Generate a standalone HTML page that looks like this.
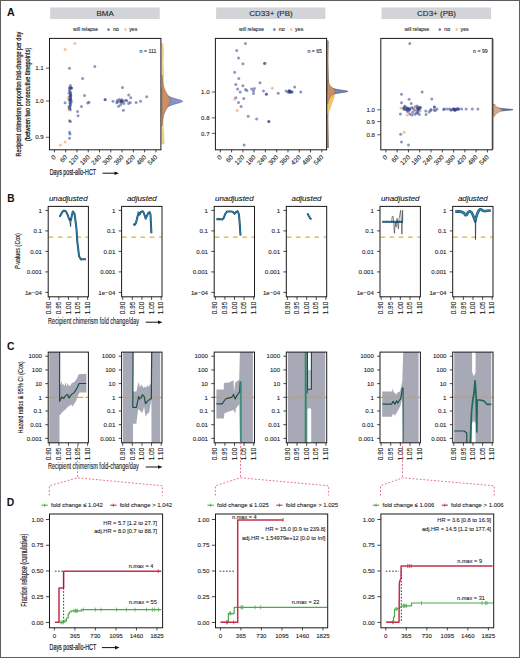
<!DOCTYPE html>
<html><head><meta charset="utf-8"><style>
html,body{margin:0;padding:0;background:#fff;}
body{width:520px;height:658px;overflow:hidden;position:relative;}
svg{position:absolute;left:0;top:0;font-family:"Liberation Sans",sans-serif;}
.frame{position:absolute;left:0;top:0;width:518px;height:656px;border:1px solid #5e5e5e;}
</style></head><body>
<svg width="520" height="658" viewBox="0 0 520 658">
<text x="6.90" y="15.80" font-size="11" text-anchor="start" fill="#111" font-weight="bold" textLength="7.7" lengthAdjust="spacingAndGlyphs" >A</text>
<rect x="50.20" y="7.50" width="109.50" height="11.50" fill="#d2d4d7" stroke="none" stroke-width="1" />
<text x="105.20" y="15.90" font-size="8" text-anchor="middle" fill="#1f1f1f"  stroke="#1f1f1f" stroke-width="0.1">BMA</text>
<text x="73.10" y="31.30" font-size="5.3" text-anchor="start" fill="#262626" textLength="25" lengthAdjust="spacingAndGlyphs"  stroke="#262626" stroke-width="0.1">will relapse</text>
<circle cx="108.50" cy="29.60" r="1.3" fill="#34428a" fill-opacity="0.7"/>
<text x="112.90" y="31.30" font-size="5.3" text-anchor="start" fill="#262626"  stroke="#262626" stroke-width="0.1">no</text>
<circle cx="125.40" cy="29.60" r="1.3" fill="#f2a65a" fill-opacity="0.7"/>
<text x="129.20" y="31.30" font-size="5.3" text-anchor="start" fill="#262626"  stroke="#262626" stroke-width="0.1">yes</text>
<line x1="54.40" y1="149.80" x2="54.40" y2="152.40" stroke="#1a1a1a" stroke-width="0.8" />
<text x="56.40" y="157.80" font-size="6.5" text-anchor="end" fill="#262626" transform="rotate(-45 56.40 157.80)"  stroke="#262626" stroke-width="0.1">0</text>
<line x1="65.68" y1="149.80" x2="65.68" y2="152.40" stroke="#1a1a1a" stroke-width="0.8" />
<text x="67.68" y="157.80" font-size="6.5" text-anchor="end" fill="#262626" transform="rotate(-45 67.68 157.80)"  stroke="#262626" stroke-width="0.1">60</text>
<line x1="76.96" y1="149.80" x2="76.96" y2="152.40" stroke="#1a1a1a" stroke-width="0.8" />
<text x="78.96" y="157.80" font-size="6.5" text-anchor="end" fill="#262626" transform="rotate(-45 78.96 157.80)"  stroke="#262626" stroke-width="0.1">120</text>
<line x1="88.24" y1="149.80" x2="88.24" y2="152.40" stroke="#1a1a1a" stroke-width="0.8" />
<text x="90.24" y="157.80" font-size="6.5" text-anchor="end" fill="#262626" transform="rotate(-45 90.24 157.80)"  stroke="#262626" stroke-width="0.1">180</text>
<line x1="99.52" y1="149.80" x2="99.52" y2="152.40" stroke="#1a1a1a" stroke-width="0.8" />
<text x="101.52" y="157.80" font-size="6.5" text-anchor="end" fill="#262626" transform="rotate(-45 101.52 157.80)"  stroke="#262626" stroke-width="0.1">240</text>
<line x1="110.80" y1="149.80" x2="110.80" y2="152.40" stroke="#1a1a1a" stroke-width="0.8" />
<text x="112.80" y="157.80" font-size="6.5" text-anchor="end" fill="#262626" transform="rotate(-45 112.80 157.80)"  stroke="#262626" stroke-width="0.1">300</text>
<line x1="122.08" y1="149.80" x2="122.08" y2="152.40" stroke="#1a1a1a" stroke-width="0.8" />
<text x="124.08" y="157.80" font-size="6.5" text-anchor="end" fill="#262626" transform="rotate(-45 124.08 157.80)"  stroke="#262626" stroke-width="0.1">360</text>
<line x1="133.36" y1="149.80" x2="133.36" y2="152.40" stroke="#1a1a1a" stroke-width="0.8" />
<text x="135.36" y="157.80" font-size="6.5" text-anchor="end" fill="#262626" transform="rotate(-45 135.36 157.80)"  stroke="#262626" stroke-width="0.1">420</text>
<line x1="144.64" y1="149.80" x2="144.64" y2="152.40" stroke="#1a1a1a" stroke-width="0.8" />
<text x="146.64" y="157.80" font-size="6.5" text-anchor="end" fill="#262626" transform="rotate(-45 146.64 157.80)"  stroke="#262626" stroke-width="0.1">480</text>
<line x1="155.92" y1="149.80" x2="155.92" y2="152.40" stroke="#1a1a1a" stroke-width="0.8" />
<text x="157.92" y="157.80" font-size="6.5" text-anchor="end" fill="#262626" transform="rotate(-45 157.92 157.80)"  stroke="#262626" stroke-width="0.1">540</text>
<line x1="45.90" y1="68.18" x2="49.50" y2="68.18" stroke="#1a1a1a" stroke-width="0.7" />
<text x="43.70" y="70.38" font-size="6.1" text-anchor="end" fill="#262626"  stroke="#262626" stroke-width="0.1">1.1</text>
<line x1="45.90" y1="101.00" x2="49.50" y2="101.00" stroke="#1a1a1a" stroke-width="0.7" />
<text x="43.70" y="103.20" font-size="6.1" text-anchor="end" fill="#262626"  stroke="#262626" stroke-width="0.1">1.0</text>
<line x1="45.90" y1="137.29" x2="49.50" y2="137.29" stroke="#1a1a1a" stroke-width="0.7" />
<text x="43.70" y="139.49" font-size="6.1" text-anchor="end" fill="#262626"  stroke="#262626" stroke-width="0.1">0.9</text>
<text x="156.30" y="53.20" font-size="5.2" text-anchor="end" fill="#262626"  stroke="#262626" stroke-width="0.1">n = 111</text>
<rect x="216.10" y="7.50" width="109.30" height="11.50" fill="#d2d4d7" stroke="none" stroke-width="1" />
<text x="271.00" y="15.90" font-size="8" text-anchor="middle" fill="#1f1f1f"  stroke="#1f1f1f" stroke-width="0.1">CD33+ (PB)</text>
<text x="239.00" y="31.30" font-size="5.3" text-anchor="start" fill="#262626" textLength="25" lengthAdjust="spacingAndGlyphs"  stroke="#262626" stroke-width="0.1">will relapse</text>
<circle cx="274.40" cy="29.60" r="1.3" fill="#34428a" fill-opacity="0.7"/>
<text x="278.80" y="31.30" font-size="5.3" text-anchor="start" fill="#262626"  stroke="#262626" stroke-width="0.1">no</text>
<circle cx="291.30" cy="29.60" r="1.3" fill="#f2a65a" fill-opacity="0.7"/>
<text x="295.10" y="31.30" font-size="5.3" text-anchor="start" fill="#262626"  stroke="#262626" stroke-width="0.1">yes</text>
<line x1="220.30" y1="149.80" x2="220.30" y2="152.40" stroke="#1a1a1a" stroke-width="0.8" />
<text x="222.30" y="157.80" font-size="6.5" text-anchor="end" fill="#262626" transform="rotate(-45 222.30 157.80)"  stroke="#262626" stroke-width="0.1">0</text>
<line x1="231.58" y1="149.80" x2="231.58" y2="152.40" stroke="#1a1a1a" stroke-width="0.8" />
<text x="233.58" y="157.80" font-size="6.5" text-anchor="end" fill="#262626" transform="rotate(-45 233.58 157.80)"  stroke="#262626" stroke-width="0.1">60</text>
<line x1="242.86" y1="149.80" x2="242.86" y2="152.40" stroke="#1a1a1a" stroke-width="0.8" />
<text x="244.86" y="157.80" font-size="6.5" text-anchor="end" fill="#262626" transform="rotate(-45 244.86 157.80)"  stroke="#262626" stroke-width="0.1">120</text>
<line x1="254.14" y1="149.80" x2="254.14" y2="152.40" stroke="#1a1a1a" stroke-width="0.8" />
<text x="256.14" y="157.80" font-size="6.5" text-anchor="end" fill="#262626" transform="rotate(-45 256.14 157.80)"  stroke="#262626" stroke-width="0.1">180</text>
<line x1="265.42" y1="149.80" x2="265.42" y2="152.40" stroke="#1a1a1a" stroke-width="0.8" />
<text x="267.42" y="157.80" font-size="6.5" text-anchor="end" fill="#262626" transform="rotate(-45 267.42 157.80)"  stroke="#262626" stroke-width="0.1">240</text>
<line x1="276.70" y1="149.80" x2="276.70" y2="152.40" stroke="#1a1a1a" stroke-width="0.8" />
<text x="278.70" y="157.80" font-size="6.5" text-anchor="end" fill="#262626" transform="rotate(-45 278.70 157.80)"  stroke="#262626" stroke-width="0.1">300</text>
<line x1="287.98" y1="149.80" x2="287.98" y2="152.40" stroke="#1a1a1a" stroke-width="0.8" />
<text x="289.98" y="157.80" font-size="6.5" text-anchor="end" fill="#262626" transform="rotate(-45 289.98 157.80)"  stroke="#262626" stroke-width="0.1">360</text>
<line x1="299.26" y1="149.80" x2="299.26" y2="152.40" stroke="#1a1a1a" stroke-width="0.8" />
<text x="301.26" y="157.80" font-size="6.5" text-anchor="end" fill="#262626" transform="rotate(-45 301.26 157.80)"  stroke="#262626" stroke-width="0.1">420</text>
<line x1="310.54" y1="149.80" x2="310.54" y2="152.40" stroke="#1a1a1a" stroke-width="0.8" />
<text x="312.54" y="157.80" font-size="6.5" text-anchor="end" fill="#262626" transform="rotate(-45 312.54 157.80)"  stroke="#262626" stroke-width="0.1">480</text>
<line x1="321.82" y1="149.80" x2="321.82" y2="152.40" stroke="#1a1a1a" stroke-width="0.8" />
<text x="323.82" y="157.80" font-size="6.5" text-anchor="end" fill="#262626" transform="rotate(-45 323.82 157.80)"  stroke="#262626" stroke-width="0.1">540</text>
<line x1="211.80" y1="92.00" x2="215.40" y2="92.00" stroke="#1a1a1a" stroke-width="0.7" />
<text x="209.60" y="94.20" font-size="6.1" text-anchor="end" fill="#262626"  stroke="#262626" stroke-width="0.1">1.0</text>
<line x1="211.80" y1="117.87" x2="215.40" y2="117.87" stroke="#1a1a1a" stroke-width="0.7" />
<text x="209.60" y="120.07" font-size="6.1" text-anchor="end" fill="#262626"  stroke="#262626" stroke-width="0.1">0.8</text>
<line x1="211.80" y1="133.36" x2="215.40" y2="133.36" stroke="#1a1a1a" stroke-width="0.7" />
<text x="209.60" y="135.56" font-size="6.1" text-anchor="end" fill="#262626"  stroke="#262626" stroke-width="0.1">0.7</text>
<text x="322.00" y="53.20" font-size="5.2" text-anchor="end" fill="#262626"  stroke="#262626" stroke-width="0.1">n = 65</text>
<rect x="381.50" y="7.50" width="109.60" height="11.50" fill="#d2d4d7" stroke="none" stroke-width="1" />
<text x="436.55" y="15.90" font-size="8" text-anchor="middle" fill="#1f1f1f"  stroke="#1f1f1f" stroke-width="0.1">CD3+ (PB)</text>
<text x="404.40" y="31.30" font-size="5.3" text-anchor="start" fill="#262626" textLength="25" lengthAdjust="spacingAndGlyphs"  stroke="#262626" stroke-width="0.1">will relapse</text>
<circle cx="439.80" cy="29.60" r="1.3" fill="#34428a" fill-opacity="0.7"/>
<text x="444.20" y="31.30" font-size="5.3" text-anchor="start" fill="#262626"  stroke="#262626" stroke-width="0.1">no</text>
<circle cx="456.70" cy="29.60" r="1.3" fill="#f2a65a" fill-opacity="0.7"/>
<text x="460.50" y="31.30" font-size="5.3" text-anchor="start" fill="#262626"  stroke="#262626" stroke-width="0.1">yes</text>
<line x1="385.90" y1="149.80" x2="385.90" y2="152.40" stroke="#1a1a1a" stroke-width="0.8" />
<text x="387.90" y="157.80" font-size="6.5" text-anchor="end" fill="#262626" transform="rotate(-45 387.90 157.80)"  stroke="#262626" stroke-width="0.1">0</text>
<line x1="397.18" y1="149.80" x2="397.18" y2="152.40" stroke="#1a1a1a" stroke-width="0.8" />
<text x="399.18" y="157.80" font-size="6.5" text-anchor="end" fill="#262626" transform="rotate(-45 399.18 157.80)"  stroke="#262626" stroke-width="0.1">60</text>
<line x1="408.46" y1="149.80" x2="408.46" y2="152.40" stroke="#1a1a1a" stroke-width="0.8" />
<text x="410.46" y="157.80" font-size="6.5" text-anchor="end" fill="#262626" transform="rotate(-45 410.46 157.80)"  stroke="#262626" stroke-width="0.1">120</text>
<line x1="419.74" y1="149.80" x2="419.74" y2="152.40" stroke="#1a1a1a" stroke-width="0.8" />
<text x="421.74" y="157.80" font-size="6.5" text-anchor="end" fill="#262626" transform="rotate(-45 421.74 157.80)"  stroke="#262626" stroke-width="0.1">180</text>
<line x1="431.02" y1="149.80" x2="431.02" y2="152.40" stroke="#1a1a1a" stroke-width="0.8" />
<text x="433.02" y="157.80" font-size="6.5" text-anchor="end" fill="#262626" transform="rotate(-45 433.02 157.80)"  stroke="#262626" stroke-width="0.1">240</text>
<line x1="442.30" y1="149.80" x2="442.30" y2="152.40" stroke="#1a1a1a" stroke-width="0.8" />
<text x="444.30" y="157.80" font-size="6.5" text-anchor="end" fill="#262626" transform="rotate(-45 444.30 157.80)"  stroke="#262626" stroke-width="0.1">300</text>
<line x1="453.58" y1="149.80" x2="453.58" y2="152.40" stroke="#1a1a1a" stroke-width="0.8" />
<text x="455.58" y="157.80" font-size="6.5" text-anchor="end" fill="#262626" transform="rotate(-45 455.58 157.80)"  stroke="#262626" stroke-width="0.1">360</text>
<line x1="464.86" y1="149.80" x2="464.86" y2="152.40" stroke="#1a1a1a" stroke-width="0.8" />
<text x="466.86" y="157.80" font-size="6.5" text-anchor="end" fill="#262626" transform="rotate(-45 466.86 157.80)"  stroke="#262626" stroke-width="0.1">420</text>
<line x1="476.14" y1="149.80" x2="476.14" y2="152.40" stroke="#1a1a1a" stroke-width="0.8" />
<text x="478.14" y="157.80" font-size="6.5" text-anchor="end" fill="#262626" transform="rotate(-45 478.14 157.80)"  stroke="#262626" stroke-width="0.1">480</text>
<line x1="487.42" y1="149.80" x2="487.42" y2="152.40" stroke="#1a1a1a" stroke-width="0.8" />
<text x="489.42" y="157.80" font-size="6.5" text-anchor="end" fill="#262626" transform="rotate(-45 489.42 157.80)"  stroke="#262626" stroke-width="0.1">540</text>
<line x1="377.20" y1="109.80" x2="380.80" y2="109.80" stroke="#1a1a1a" stroke-width="0.7" />
<text x="375.00" y="112.00" font-size="6.1" text-anchor="end" fill="#262626"  stroke="#262626" stroke-width="0.1">1.0</text>
<line x1="377.20" y1="121.61" x2="380.80" y2="121.61" stroke="#1a1a1a" stroke-width="0.7" />
<text x="375.00" y="123.81" font-size="6.1" text-anchor="end" fill="#262626"  stroke="#262626" stroke-width="0.1">0.9</text>
<line x1="377.20" y1="134.80" x2="380.80" y2="134.80" stroke="#1a1a1a" stroke-width="0.7" />
<text x="375.00" y="137.00" font-size="6.1" text-anchor="end" fill="#262626"  stroke="#262626" stroke-width="0.1">0.8</text>
<text x="487.70" y="53.20" font-size="5.2" text-anchor="end" fill="#262626"  stroke="#262626" stroke-width="0.1">n = 99</text>
<circle cx="69.50" cy="68.30" r="1.5" fill="#34428a" fill-opacity="0.55"/>
<circle cx="94.80" cy="66.50" r="1.5" fill="#34428a" fill-opacity="0.55"/>
<circle cx="82.60" cy="78.50" r="1.5" fill="#34428a" fill-opacity="0.55"/>
<circle cx="70.40" cy="85.40" r="1.5" fill="#34428a" fill-opacity="0.55"/>
<circle cx="84.50" cy="95.60" r="1.5" fill="#34428a" fill-opacity="0.55"/>
<circle cx="65.10" cy="102.70" r="1.5" fill="#34428a" fill-opacity="0.55"/>
<circle cx="89.00" cy="102.20" r="1.5" fill="#34428a" fill-opacity="0.55"/>
<circle cx="87.70" cy="103.00" r="1.5" fill="#34428a" fill-opacity="0.55"/>
<circle cx="81.50" cy="106.60" r="1.5" fill="#34428a" fill-opacity="0.55"/>
<circle cx="105.00" cy="99.50" r="1.5" fill="#34428a" fill-opacity="0.55"/>
<circle cx="77.50" cy="111.50" r="1.5" fill="#34428a" fill-opacity="0.55"/>
<circle cx="78.00" cy="115.80" r="1.5" fill="#34428a" fill-opacity="0.55"/>
<circle cx="69.50" cy="120.70" r="1.5" fill="#34428a" fill-opacity="0.55"/>
<circle cx="70.40" cy="121.60" r="1.5" fill="#34428a" fill-opacity="0.55"/>
<circle cx="69.50" cy="132.20" r="1.5" fill="#34428a" fill-opacity="0.55"/>
<circle cx="70.00" cy="134.00" r="1.5" fill="#34428a" fill-opacity="0.55"/>
<circle cx="69.50" cy="138.30" r="1.5" fill="#34428a" fill-opacity="0.55"/>
<circle cx="105.30" cy="99.80" r="1.5" fill="#34428a" fill-opacity="0.55"/>
<circle cx="122.50" cy="87.60" r="1.5" fill="#34428a" fill-opacity="0.55"/>
<circle cx="128.70" cy="95.00" r="1.5" fill="#34428a" fill-opacity="0.55"/>
<circle cx="146.70" cy="96.80" r="1.5" fill="#34428a" fill-opacity="0.55"/>
<circle cx="140.50" cy="101.20" r="1.5" fill="#34428a" fill-opacity="0.55"/>
<circle cx="136.10" cy="102.40" r="1.5" fill="#34428a" fill-opacity="0.55"/>
<circle cx="123.40" cy="110.30" r="1.5" fill="#34428a" fill-opacity="0.55"/>
<circle cx="70.26" cy="109.75" r="1.5" fill="#34428a" fill-opacity="0.55"/>
<circle cx="69.64" cy="107.95" r="1.5" fill="#34428a" fill-opacity="0.55"/>
<circle cx="70.04" cy="99.17" r="1.5" fill="#34428a" fill-opacity="0.55"/>
<circle cx="71.34" cy="102.10" r="1.5" fill="#34428a" fill-opacity="0.55"/>
<circle cx="70.17" cy="106.11" r="1.5" fill="#34428a" fill-opacity="0.55"/>
<circle cx="70.88" cy="100.78" r="1.5" fill="#34428a" fill-opacity="0.55"/>
<circle cx="70.55" cy="94.18" r="1.5" fill="#34428a" fill-opacity="0.55"/>
<circle cx="69.98" cy="97.93" r="1.5" fill="#34428a" fill-opacity="0.55"/>
<circle cx="69.40" cy="90.44" r="1.5" fill="#34428a" fill-opacity="0.55"/>
<circle cx="69.22" cy="99.33" r="1.5" fill="#34428a" fill-opacity="0.55"/>
<circle cx="70.10" cy="98.76" r="1.5" fill="#34428a" fill-opacity="0.55"/>
<circle cx="70.24" cy="91.65" r="1.5" fill="#34428a" fill-opacity="0.55"/>
<circle cx="70.15" cy="102.67" r="1.5" fill="#34428a" fill-opacity="0.55"/>
<circle cx="70.65" cy="95.08" r="1.5" fill="#34428a" fill-opacity="0.55"/>
<circle cx="69.96" cy="88.00" r="1.5" fill="#34428a" fill-opacity="0.55"/>
<circle cx="69.90" cy="88.00" r="1.5" fill="#34428a" fill-opacity="0.55"/>
<circle cx="69.35" cy="108.71" r="1.5" fill="#34428a" fill-opacity="0.55"/>
<circle cx="69.00" cy="106.59" r="1.5" fill="#34428a" fill-opacity="0.55"/>
<circle cx="70.40" cy="98.81" r="1.5" fill="#34428a" fill-opacity="0.55"/>
<circle cx="70.48" cy="104.69" r="1.5" fill="#34428a" fill-opacity="0.55"/>
<circle cx="70.83" cy="99.39" r="1.5" fill="#34428a" fill-opacity="0.55"/>
<circle cx="69.84" cy="96.77" r="1.5" fill="#34428a" fill-opacity="0.55"/>
<circle cx="69.61" cy="100.69" r="1.5" fill="#34428a" fill-opacity="0.55"/>
<circle cx="69.73" cy="108.48" r="1.5" fill="#34428a" fill-opacity="0.55"/>
<circle cx="69.08" cy="93.34" r="1.5" fill="#34428a" fill-opacity="0.55"/>
<circle cx="69.63" cy="88.00" r="1.5" fill="#34428a" fill-opacity="0.55"/>
<circle cx="71.34" cy="88.00" r="1.5" fill="#34428a" fill-opacity="0.55"/>
<circle cx="70.03" cy="97.32" r="1.5" fill="#34428a" fill-opacity="0.55"/>
<circle cx="71.19" cy="88.00" r="1.5" fill="#34428a" fill-opacity="0.55"/>
<circle cx="70.84" cy="95.88" r="1.5" fill="#34428a" fill-opacity="0.55"/>
<circle cx="70.11" cy="96.30" r="1.5" fill="#34428a" fill-opacity="0.55"/>
<circle cx="70.58" cy="93.04" r="1.5" fill="#34428a" fill-opacity="0.55"/>
<circle cx="70.15" cy="103.47" r="1.5" fill="#34428a" fill-opacity="0.55"/>
<circle cx="71.30" cy="88.00" r="1.5" fill="#34428a" fill-opacity="0.55"/>
<circle cx="128.60" cy="103.40" r="1.5" fill="#34428a" fill-opacity="0.55"/>
<circle cx="120.57" cy="102.11" r="1.5" fill="#34428a" fill-opacity="0.55"/>
<circle cx="120.64" cy="104.79" r="1.5" fill="#34428a" fill-opacity="0.55"/>
<circle cx="123.34" cy="101.07" r="1.5" fill="#34428a" fill-opacity="0.55"/>
<circle cx="121.59" cy="101.10" r="1.5" fill="#34428a" fill-opacity="0.55"/>
<circle cx="121.79" cy="99.74" r="1.5" fill="#34428a" fill-opacity="0.55"/>
<circle cx="130.73" cy="97.68" r="1.5" fill="#34428a" fill-opacity="0.55"/>
<circle cx="113.00" cy="101.25" r="1.5" fill="#34428a" fill-opacity="0.55"/>
<circle cx="121.91" cy="102.24" r="1.5" fill="#34428a" fill-opacity="0.55"/>
<circle cx="121.68" cy="101.20" r="1.5" fill="#34428a" fill-opacity="0.55"/>
<circle cx="123.83" cy="103.44" r="1.5" fill="#34428a" fill-opacity="0.55"/>
<circle cx="120.71" cy="100.75" r="1.5" fill="#34428a" fill-opacity="0.55"/>
<circle cx="130.26" cy="102.56" r="1.5" fill="#34428a" fill-opacity="0.55"/>
<circle cx="118.56" cy="106.15" r="1.5" fill="#34428a" fill-opacity="0.55"/>
<circle cx="125.60" cy="100.32" r="1.5" fill="#34428a" fill-opacity="0.55"/>
<circle cx="117.80" cy="102.10" r="1.5" fill="#34428a" fill-opacity="0.55"/>
<circle cx="119.17" cy="99.38" r="1.5" fill="#34428a" fill-opacity="0.55"/>
<circle cx="117.32" cy="100.49" r="1.5" fill="#34428a" fill-opacity="0.55"/>
<circle cx="126.93" cy="100.63" r="1.5" fill="#34428a" fill-opacity="0.55"/>
<circle cx="116.70" cy="102.84" r="1.5" fill="#34428a" fill-opacity="0.55"/>
<circle cx="245.50" cy="43.40" r="1.5" fill="#34428a" fill-opacity="0.55"/>
<circle cx="236.70" cy="50.50" r="1.5" fill="#34428a" fill-opacity="0.55"/>
<circle cx="238.50" cy="58.10" r="1.5" fill="#34428a" fill-opacity="0.55"/>
<circle cx="242.90" cy="63.70" r="1.5" fill="#34428a" fill-opacity="0.55"/>
<circle cx="264.40" cy="63.40" r="1.5" fill="#34428a" fill-opacity="0.55"/>
<circle cx="234.60" cy="72.20" r="1.5" fill="#34428a" fill-opacity="0.55"/>
<circle cx="238.80" cy="78.40" r="1.5" fill="#34428a" fill-opacity="0.55"/>
<circle cx="260.00" cy="82.80" r="1.5" fill="#34428a" fill-opacity="0.55"/>
<circle cx="235.80" cy="84.50" r="1.5" fill="#34428a" fill-opacity="0.55"/>
<circle cx="242.90" cy="85.80" r="1.5" fill="#34428a" fill-opacity="0.55"/>
<circle cx="237.60" cy="88.90" r="1.5" fill="#34428a" fill-opacity="0.55"/>
<circle cx="240.20" cy="92.10" r="1.5" fill="#34428a" fill-opacity="0.55"/>
<circle cx="245.50" cy="89.50" r="1.5" fill="#34428a" fill-opacity="0.55"/>
<circle cx="246.90" cy="90.40" r="1.5" fill="#34428a" fill-opacity="0.55"/>
<circle cx="251.70" cy="88.90" r="1.5" fill="#34428a" fill-opacity="0.55"/>
<circle cx="254.40" cy="88.60" r="1.5" fill="#34428a" fill-opacity="0.55"/>
<circle cx="253.50" cy="91.10" r="1.5" fill="#34428a" fill-opacity="0.55"/>
<circle cx="253.50" cy="93.40" r="1.5" fill="#34428a" fill-opacity="0.55"/>
<circle cx="263.50" cy="91.10" r="1.5" fill="#34428a" fill-opacity="0.55"/>
<circle cx="266.40" cy="94.20" r="1.5" fill="#34428a" fill-opacity="0.55"/>
<circle cx="235.80" cy="97.80" r="1.5" fill="#34428a" fill-opacity="0.55"/>
<circle cx="243.80" cy="98.60" r="1.5" fill="#34428a" fill-opacity="0.55"/>
<circle cx="238.50" cy="102.50" r="1.5" fill="#34428a" fill-opacity="0.55"/>
<circle cx="241.10" cy="106.60" r="1.5" fill="#34428a" fill-opacity="0.55"/>
<circle cx="248.20" cy="116.30" r="1.5" fill="#34428a" fill-opacity="0.55"/>
<circle cx="256.60" cy="118.90" r="1.5" fill="#34428a" fill-opacity="0.55"/>
<circle cx="268.80" cy="121.60" r="1.5" fill="#34428a" fill-opacity="0.55"/>
<circle cx="244.10" cy="145.10" r="1.5" fill="#34428a" fill-opacity="0.55"/>
<circle cx="265.00" cy="63.30" r="1.5" fill="#34428a" fill-opacity="0.55"/>
<circle cx="266.40" cy="94.10" r="1.5" fill="#34428a" fill-opacity="0.55"/>
<circle cx="278.20" cy="93.20" r="1.5" fill="#34428a" fill-opacity="0.55"/>
<circle cx="286.10" cy="91.00" r="1.5" fill="#34428a" fill-opacity="0.55"/>
<circle cx="294.60" cy="87.10" r="1.5" fill="#34428a" fill-opacity="0.55"/>
<circle cx="300.80" cy="92.00" r="1.5" fill="#34428a" fill-opacity="0.55"/>
<circle cx="268.90" cy="121.40" r="1.5" fill="#34428a" fill-opacity="0.55"/>
<circle cx="290.10" cy="92.48" r="1.5" fill="#34428a" fill-opacity="0.55"/>
<circle cx="291.80" cy="91.67" r="1.5" fill="#34428a" fill-opacity="0.55"/>
<circle cx="289.78" cy="91.76" r="1.5" fill="#34428a" fill-opacity="0.55"/>
<circle cx="288.30" cy="92.34" r="1.5" fill="#34428a" fill-opacity="0.55"/>
<circle cx="292.06" cy="91.94" r="1.5" fill="#34428a" fill-opacity="0.55"/>
<circle cx="289.64" cy="91.59" r="1.5" fill="#34428a" fill-opacity="0.55"/>
<circle cx="288.83" cy="91.16" r="1.5" fill="#34428a" fill-opacity="0.55"/>
<circle cx="289.40" cy="91.13" r="1.5" fill="#34428a" fill-opacity="0.55"/>
<circle cx="289.34" cy="90.54" r="1.5" fill="#34428a" fill-opacity="0.55"/>
<circle cx="290.53" cy="91.84" r="1.5" fill="#34428a" fill-opacity="0.55"/>
<circle cx="409.80" cy="43.40" r="1.5" fill="#34428a" fill-opacity="0.55"/>
<circle cx="401.50" cy="94.20" r="1.5" fill="#34428a" fill-opacity="0.55"/>
<circle cx="422.10" cy="92.10" r="1.5" fill="#34428a" fill-opacity="0.55"/>
<circle cx="409.10" cy="99.20" r="1.5" fill="#34428a" fill-opacity="0.55"/>
<circle cx="431.80" cy="99.00" r="1.5" fill="#34428a" fill-opacity="0.55"/>
<circle cx="401.50" cy="102.70" r="1.5" fill="#34428a" fill-opacity="0.55"/>
<circle cx="411.20" cy="103.60" r="1.5" fill="#34428a" fill-opacity="0.55"/>
<circle cx="404.50" cy="106.20" r="1.5" fill="#34428a" fill-opacity="0.55"/>
<circle cx="434.50" cy="106.90" r="1.5" fill="#34428a" fill-opacity="0.55"/>
<circle cx="426.00" cy="114.50" r="1.5" fill="#34428a" fill-opacity="0.55"/>
<circle cx="429.20" cy="111.90" r="1.5" fill="#34428a" fill-opacity="0.55"/>
<circle cx="411.90" cy="115.00" r="1.5" fill="#34428a" fill-opacity="0.55"/>
<circle cx="400.60" cy="134.30" r="1.5" fill="#34428a" fill-opacity="0.55"/>
<circle cx="401.50" cy="141.90" r="1.5" fill="#34428a" fill-opacity="0.55"/>
<circle cx="408.50" cy="144.90" r="1.5" fill="#34428a" fill-opacity="0.55"/>
<circle cx="444.10" cy="109.10" r="1.5" fill="#34428a" fill-opacity="0.55"/>
<circle cx="446.70" cy="109.10" r="1.5" fill="#34428a" fill-opacity="0.55"/>
<circle cx="449.40" cy="109.10" r="1.5" fill="#34428a" fill-opacity="0.55"/>
<circle cx="461.70" cy="109.10" r="1.5" fill="#34428a" fill-opacity="0.55"/>
<circle cx="466.10" cy="109.10" r="1.5" fill="#34428a" fill-opacity="0.55"/>
<circle cx="472.30" cy="109.10" r="1.5" fill="#34428a" fill-opacity="0.55"/>
<circle cx="477.90" cy="109.10" r="1.5" fill="#34428a" fill-opacity="0.55"/>
<circle cx="431.00" cy="109.50" r="1.5" fill="#34428a" fill-opacity="0.55"/>
<circle cx="434.00" cy="110.00" r="1.5" fill="#34428a" fill-opacity="0.55"/>
<circle cx="437.00" cy="109.00" r="1.5" fill="#34428a" fill-opacity="0.55"/>
<circle cx="414.97" cy="114.18" r="1.5" fill="#34428a" fill-opacity="0.55"/>
<circle cx="405.75" cy="109.77" r="1.5" fill="#34428a" fill-opacity="0.55"/>
<circle cx="413.16" cy="108.58" r="1.5" fill="#34428a" fill-opacity="0.55"/>
<circle cx="408.20" cy="108.52" r="1.5" fill="#34428a" fill-opacity="0.55"/>
<circle cx="408.31" cy="110.98" r="1.5" fill="#34428a" fill-opacity="0.55"/>
<circle cx="406.82" cy="109.08" r="1.5" fill="#34428a" fill-opacity="0.55"/>
<circle cx="417.06" cy="106.03" r="1.5" fill="#34428a" fill-opacity="0.55"/>
<circle cx="412.65" cy="112.20" r="1.5" fill="#34428a" fill-opacity="0.55"/>
<circle cx="407.03" cy="107.74" r="1.5" fill="#34428a" fill-opacity="0.55"/>
<circle cx="417.74" cy="107.88" r="1.5" fill="#34428a" fill-opacity="0.55"/>
<circle cx="404.37" cy="109.59" r="1.5" fill="#34428a" fill-opacity="0.55"/>
<circle cx="415.45" cy="106.69" r="1.5" fill="#34428a" fill-opacity="0.55"/>
<circle cx="407.29" cy="108.70" r="1.5" fill="#34428a" fill-opacity="0.55"/>
<circle cx="418.39" cy="109.61" r="1.5" fill="#34428a" fill-opacity="0.55"/>
<circle cx="418.87" cy="107.27" r="1.5" fill="#34428a" fill-opacity="0.55"/>
<circle cx="407.61" cy="111.46" r="1.5" fill="#34428a" fill-opacity="0.55"/>
<circle cx="419.50" cy="109.72" r="1.5" fill="#34428a" fill-opacity="0.55"/>
<circle cx="405.18" cy="106.85" r="1.5" fill="#34428a" fill-opacity="0.55"/>
<circle cx="411.79" cy="107.46" r="1.5" fill="#34428a" fill-opacity="0.55"/>
<circle cx="417.81" cy="113.09" r="1.5" fill="#34428a" fill-opacity="0.55"/>
<circle cx="404.28" cy="108.22" r="1.5" fill="#34428a" fill-opacity="0.55"/>
<circle cx="417.82" cy="111.38" r="1.5" fill="#34428a" fill-opacity="0.55"/>
<circle cx="417.80" cy="108.80" r="1.5" fill="#34428a" fill-opacity="0.55"/>
<circle cx="403.11" cy="108.34" r="1.5" fill="#34428a" fill-opacity="0.55"/>
<circle cx="417.53" cy="108.16" r="1.5" fill="#34428a" fill-opacity="0.55"/>
<circle cx="407.82" cy="109.43" r="1.5" fill="#34428a" fill-opacity="0.55"/>
<circle cx="409.41" cy="109.36" r="1.5" fill="#34428a" fill-opacity="0.55"/>
<circle cx="420.28" cy="107.16" r="1.5" fill="#34428a" fill-opacity="0.55"/>
<circle cx="400.40" cy="114.01" r="1.5" fill="#34428a" fill-opacity="0.55"/>
<circle cx="419.40" cy="114.39" r="1.5" fill="#34428a" fill-opacity="0.55"/>
<circle cx="409.73" cy="114.07" r="1.5" fill="#34428a" fill-opacity="0.55"/>
<circle cx="420.42" cy="107.73" r="1.5" fill="#34428a" fill-opacity="0.55"/>
<circle cx="416.48" cy="113.08" r="1.5" fill="#34428a" fill-opacity="0.55"/>
<circle cx="414.69" cy="110.32" r="1.5" fill="#34428a" fill-opacity="0.55"/>
<circle cx="425.80" cy="110.90" r="1.5" fill="#34428a" fill-opacity="0.55"/>
<circle cx="430.60" cy="110.40" r="1.5" fill="#34428a" fill-opacity="0.55"/>
<circle cx="434.40" cy="107.00" r="1.5" fill="#34428a" fill-opacity="0.55"/>
<circle cx="435.40" cy="110.40" r="1.5" fill="#34428a" fill-opacity="0.55"/>
<circle cx="443.60" cy="109.40" r="1.5" fill="#34428a" fill-opacity="0.55"/>
<circle cx="409.40" cy="108.50" r="1.5" fill="#34428a" fill-opacity="0.55"/>
<circle cx="419.00" cy="109.40" r="1.5" fill="#34428a" fill-opacity="0.55"/>
<circle cx="418.00" cy="110.50" r="1.5" fill="#34428a" fill-opacity="0.55"/>
<circle cx="410.00" cy="109.80" r="1.5" fill="#34428a" fill-opacity="0.55"/>
<circle cx="454.56" cy="109.93" r="1.5" fill="#34428a" fill-opacity="0.55"/>
<circle cx="455.11" cy="109.62" r="1.5" fill="#34428a" fill-opacity="0.55"/>
<circle cx="453.60" cy="109.14" r="1.5" fill="#34428a" fill-opacity="0.55"/>
<circle cx="455.22" cy="109.23" r="1.5" fill="#34428a" fill-opacity="0.55"/>
<circle cx="457.53" cy="108.87" r="1.5" fill="#34428a" fill-opacity="0.55"/>
<circle cx="458.78" cy="108.81" r="1.5" fill="#34428a" fill-opacity="0.55"/>
<circle cx="457.12" cy="108.94" r="1.5" fill="#34428a" fill-opacity="0.55"/>
<circle cx="458.30" cy="109.48" r="1.5" fill="#34428a" fill-opacity="0.55"/>
<circle cx="455.80" cy="109.85" r="1.5" fill="#34428a" fill-opacity="0.55"/>
<circle cx="453.73" cy="108.77" r="1.5" fill="#34428a" fill-opacity="0.55"/>
<circle cx="451.00" cy="110.13" r="1.5" fill="#34428a" fill-opacity="0.55"/>
<circle cx="453.61" cy="109.04" r="1.5" fill="#34428a" fill-opacity="0.55"/>
<circle cx="454.94" cy="110.59" r="1.5" fill="#34428a" fill-opacity="0.55"/>
<circle cx="451.54" cy="109.55" r="1.5" fill="#34428a" fill-opacity="0.55"/>
<circle cx="74.80" cy="43.40" r="1.5" fill="#eea060" fill-opacity="0.62"/>
<circle cx="65.10" cy="49.60" r="1.5" fill="#eea060" fill-opacity="0.62"/>
<circle cx="65.10" cy="141.90" r="1.5" fill="#eea060" fill-opacity="0.62"/>
<circle cx="60.40" cy="145.10" r="1.5" fill="#eea060" fill-opacity="0.62"/>
<circle cx="68.30" cy="97.80" r="1.5" fill="#eea060" fill-opacity="0.62"/>
<circle cx="68.80" cy="109.80" r="1.5" fill="#eea060" fill-opacity="0.62"/>
<circle cx="234.60" cy="99.20" r="1.5" fill="#eea060" fill-opacity="0.62"/>
<circle cx="237.20" cy="110.50" r="1.5" fill="#eea060" fill-opacity="0.62"/>
<circle cx="272.40" cy="88.30" r="1.5" fill="#eea060" fill-opacity="0.62"/>
<circle cx="407.10" cy="115.00" r="1.5" fill="#eea060" fill-opacity="0.62"/>
<circle cx="404.10" cy="132.20" r="1.5" fill="#eea060" fill-opacity="0.62"/>
<circle cx="401.00" cy="108.00" r="1.5" fill="#eea060" fill-opacity="0.62"/>
<circle cx="415.00" cy="107.00" r="1.5" fill="#eea060" fill-opacity="0.62"/>
<circle cx="420.00" cy="111.00" r="1.5" fill="#eea060" fill-opacity="0.62"/>
<polygon points="161.60,43.00 163.00,44.00 163.70,52.00 163.10,62.00 163.80,75.00 163.30,90.00 163.60,110.00 163.10,125.00 164.00,135.00 164.20,144.00 161.60,144.00" fill="#f3d092" stroke="#e3a94f" stroke-width="0.3" stroke-linejoin="round" />
<polygon points="162.00,88.00 163.41,88.00 163.51,88.50 163.63,89.00 163.75,89.50 163.90,90.00 164.06,90.50 164.24,91.00 164.45,91.50 164.68,92.00 164.95,92.50 165.26,93.00 165.62,93.50 166.03,94.00 166.51,94.50 167.07,95.00 167.73,95.50 168.50,96.00 169.42,96.50 170.49,97.00 171.74,97.50 173.19,98.00 174.84,98.50 176.63,99.00 178.48,99.50 180.22,100.00 181.63,100.50 182.46,101.00 182.54,101.50 181.85,102.00 180.54,102.50 178.84,103.00 177.00,103.50 175.18,104.00 173.51,104.50 172.02,105.00 170.72,105.50 169.62,106.00 168.67,106.50 167.87,107.00 167.19,107.50 166.61,108.00 166.12,108.50 165.70,109.00 165.33,109.50 165.01,110.00 164.74,110.50 164.49,111.00 164.28,111.50 164.09,112.00 163.93,112.50 163.78,113.00 163.65,113.50 163.53,114.00 163.43,114.50 163.33,115.00 162.00,115.00" fill="#8394c6" stroke="#44557f" stroke-width="0.45" stroke-linejoin="round" />
<polygon points="162.00,75.00 162.00,75.00 162.00,75.40 162.01,75.80 162.04,76.20 162.08,76.60 162.12,77.00 162.16,77.40 162.20,77.80 162.25,78.20 162.30,78.60 162.34,79.00 162.39,79.40 162.45,79.80 162.50,80.20 162.56,80.60 162.62,81.00 162.68,81.40 162.75,81.80 162.82,82.20 162.89,82.60 162.96,83.00 163.04,83.40 163.13,83.80 163.21,84.20 163.30,84.60 163.40,85.00 163.50,85.40 163.60,85.80 163.71,86.20 163.82,86.60 163.94,87.00 164.07,87.40 164.20,87.80 164.34,88.20 164.48,88.60 164.63,89.00 164.79,89.40 164.96,89.80 165.13,90.20 165.31,90.60 165.50,91.00 165.70,91.40 165.90,91.80 166.11,92.20 166.33,92.60 166.55,93.00 166.79,93.40 167.02,93.80 167.26,94.20 167.51,94.60 167.76,95.00 168.01,95.40 168.26,95.80 168.50,96.20 168.74,96.60 168.98,97.00 169.20,97.40 169.41,97.80 169.60,98.20 169.78,98.60 169.93,99.00 170.06,99.40 170.16,99.80 170.24,100.20 170.28,100.60 170.30,101.00 170.28,101.40 170.24,101.80 170.16,102.20 170.06,102.60 169.93,103.00 169.78,103.40 169.60,103.80 169.41,104.20 169.20,104.60 168.98,105.00 168.74,105.40 168.50,105.80 168.26,106.20 168.01,106.60 167.76,107.00 167.51,107.40 167.26,107.80 167.02,108.20 166.79,108.60 166.55,109.00 166.33,109.40 166.11,109.80 165.90,110.20 165.70,110.60 165.50,111.00 165.31,111.40 165.13,111.80 164.96,112.20 164.79,112.60 164.63,113.00 164.48,113.40 164.34,113.80 164.20,114.20 164.07,114.60 163.94,115.00 163.82,115.40 163.71,115.80 163.60,116.20 163.50,116.60 163.40,117.00 163.30,117.40 163.21,117.80 163.13,118.20 163.04,118.60 162.96,119.00 162.89,119.40 162.82,119.80 162.75,120.20 162.68,120.60 162.62,121.00 162.56,121.40 162.50,121.80 162.45,122.20 162.39,122.60 162.34,123.00 162.30,123.40 162.25,123.80 162.20,124.20 162.16,124.60 162.12,125.00 162.08,125.40 162.04,125.80 162.00,126.00" fill="#c98f66" stroke="#7a5238" stroke-width="0.35" stroke-linejoin="round" />
<polygon points="327.00,40.00 328.80,41.00 328.40,60.00 329.00,80.00 328.40,120.00 329.00,148.00 327.00,148.00" fill="#a08a6a" stroke="none" stroke-width="1" stroke-linejoin="round" />
<polygon points="327.30,84.00 328.58,84.00 328.76,84.50 328.98,85.00 329.25,85.50 329.58,86.00 330.01,86.50 330.55,87.00 331.27,87.50 332.23,88.00 333.52,88.50 335.28,89.00 337.65,89.50 340.72,90.00 344.21,90.50 347.12,91.00 347.94,91.50 346.12,92.00 342.80,92.50 339.41,93.00 336.62,93.50 334.51,94.00 332.95,94.50 331.81,95.00 330.96,95.50 330.32,96.00 329.82,96.50 329.44,97.00 329.13,97.50 328.88,98.00 328.68,98.50 328.52,99.00 327.30,99.00" fill="#7088b2" stroke="#2f4060" stroke-width="0.5" stroke-linejoin="round" />
<polygon points="327.30,93.50 334.60,95.20 334.00,98.00 332.40,102.00 331.00,106.00 329.50,110.00 328.20,113.00 327.30,113.50" fill="#f0c468" stroke="#d9a030" stroke-width="0.3" stroke-linejoin="round" />
<polygon points="327.30,80.50 328.15,80.50 328.24,80.90 328.34,81.30 328.45,81.70 328.57,82.10 328.71,82.50 328.85,82.90 329.01,83.30 329.19,83.70 329.39,84.10 329.60,84.50 329.84,84.90 330.10,85.30 330.39,85.70 330.71,86.10 331.06,86.50 331.44,86.90 331.85,87.30 332.28,87.70 332.74,88.10 333.22,88.50 333.70,88.90 334.17,89.30 334.61,89.70 334.99,90.10 335.30,90.50 335.50,90.90 335.60,91.30 335.57,91.70 335.41,92.10 335.16,92.50 334.81,92.90 334.39,93.30 333.94,93.70 333.46,94.10 332.98,94.50 332.51,94.90 332.06,95.30 331.64,95.70 331.24,96.10 330.88,96.50 330.55,96.90 330.24,97.30 329.97,97.70 329.72,98.10 329.49,98.50 329.29,98.90 329.10,99.30 328.93,99.70 328.78,100.10 328.64,100.50 328.51,100.90 328.39,101.30 328.29,101.70 328.19,102.10 328.10,102.50 328.02,102.90 327.95,103.30 327.88,103.70 327.30,104.00" fill="#c98f66" stroke="#7a5238" stroke-width="0.35" stroke-linejoin="round" />
<line x1="493.40" y1="39.00" x2="493.40" y2="149.50" stroke="#c09a58" stroke-width="0.9" />
<polygon points="493.60,104.00 494.26,104.00 494.39,104.50 494.56,105.00 494.79,105.50 495.11,106.00 495.56,106.50 496.25,107.00 497.35,107.50 499.18,108.00 502.36,108.50 507.58,109.00 513.09,109.50 512.28,110.00 506.38,110.50 501.58,111.00 498.73,111.50 497.08,112.00 496.09,112.50 495.46,113.00 495.03,113.50 494.74,114.00 494.52,114.50 494.36,115.00 494.24,115.50 493.60,115.50" fill="#5d76a8" stroke="#2f4060" stroke-width="0.5" stroke-linejoin="round" />
<polygon points="493.60,104.50 494.80,104.50 495.03,104.90 495.31,105.30 495.63,105.70 496.01,106.10 496.45,106.50 496.96,106.90 497.56,107.30 498.23,107.70 498.97,108.10 499.76,108.50 500.55,108.90 501.24,109.30 501.75,109.70 501.99,110.10 501.91,110.50 501.52,110.90 500.91,111.30 500.16,111.70 499.37,112.10 498.59,112.50 497.88,112.90 497.25,113.30 496.70,113.70 496.22,114.10 495.81,114.50 495.46,114.90 495.17,115.30 494.91,115.70 494.69,116.10 494.50,116.50 494.34,116.90 493.60,117.00" fill="#d4a884" stroke="#8a6248" stroke-width="0.3" stroke-linejoin="round" />
<rect x="49.50" y="38.40" width="111.40" height="111.40" fill="none" stroke="#1a1a1a" stroke-width="1" />
<rect x="215.40" y="38.40" width="111.20" height="111.40" fill="none" stroke="#1a1a1a" stroke-width="1" />
<rect x="380.80" y="38.40" width="111.50" height="111.40" fill="none" stroke="#1a1a1a" stroke-width="1" />
<text x="21.40" y="94.20" font-size="7.5" text-anchor="middle" fill="#222" textLength="124.7" lengthAdjust="spacingAndGlyphs" transform="rotate(-90 21.40 94.20)" stroke="#222" stroke-width="0.25">Recipient chimerism proportion fold-change per day</text>
<text x="29.70" y="94.40" font-size="7.5" text-anchor="middle" fill="#222" textLength="93.4" lengthAdjust="spacingAndGlyphs" transform="rotate(-90 29.70 94.40)" stroke="#222" stroke-width="0.25">(between two consecutive timepoints)</text>
<text x="49.70" y="175.40" font-size="8.5" text-anchor="start" fill="#1a1a1a" textLength="46.3" lengthAdjust="spacingAndGlyphs" stroke="#1a1a1a" stroke-width="0.22">Days post-allo-HCT</text>
<line x1="102.50" y1="173.20" x2="116.00" y2="173.20" stroke="#111" stroke-width="1.0" />
<polygon points="119.00,173.20 114.50,171.40 114.50,175.00" fill="#111"/>
<text x="7.20" y="202.00" font-size="11" text-anchor="start" fill="#111" font-weight="bold" textLength="7.3" lengthAdjust="spacingAndGlyphs" >B</text>
<text x="68.30" y="201.40" font-size="7.9" text-anchor="middle" fill="#111" font-style="italic"  stroke="#111" stroke-width="0.1">unadjusted</text>
<line x1="48.70" y1="237.07" x2="87.90" y2="237.07" stroke="#e69f00" stroke-width="1.25" stroke-dasharray="4.6,4.6" stroke-opacity="0.85"/>
<line x1="45.30" y1="210.40" x2="48.20" y2="210.40" stroke="#1a1a1a" stroke-width="0.8" />
<text x="42.00" y="212.60" font-size="6.1" text-anchor="end" fill="#262626"  stroke="#262626" stroke-width="0.1">1</text>
<line x1="45.30" y1="230.90" x2="48.20" y2="230.90" stroke="#1a1a1a" stroke-width="0.8" />
<text x="42.00" y="233.10" font-size="6.1" text-anchor="end" fill="#262626"  stroke="#262626" stroke-width="0.1">0.1</text>
<line x1="45.30" y1="251.40" x2="48.20" y2="251.40" stroke="#1a1a1a" stroke-width="0.8" />
<text x="42.00" y="253.60" font-size="6.1" text-anchor="end" fill="#262626"  stroke="#262626" stroke-width="0.1">0.01</text>
<line x1="45.30" y1="271.90" x2="48.20" y2="271.90" stroke="#1a1a1a" stroke-width="0.8" />
<text x="42.00" y="274.10" font-size="6.1" text-anchor="end" fill="#262626"  stroke="#262626" stroke-width="0.1">0.001</text>
<line x1="45.30" y1="292.40" x2="48.20" y2="292.40" stroke="#1a1a1a" stroke-width="0.8" />
<text x="42.00" y="294.60" font-size="6.1" text-anchor="end" fill="#262626"  stroke="#262626" stroke-width="0.1">1e−04</text>
<line x1="49.30" y1="296.80" x2="49.30" y2="299.80" stroke="#1a1a1a" stroke-width="0.8" />
<text x="51.50" y="301.80" font-size="6.35" text-anchor="end" fill="#262626" transform="rotate(-90 51.50 301.80)"  stroke="#262626" stroke-width="0.1">0.90</text>
<line x1="58.88" y1="296.80" x2="58.88" y2="299.80" stroke="#1a1a1a" stroke-width="0.8" />
<text x="61.08" y="301.80" font-size="6.35" text-anchor="end" fill="#262626" transform="rotate(-90 61.08 301.80)"  stroke="#262626" stroke-width="0.1">0.95</text>
<line x1="68.45" y1="296.80" x2="68.45" y2="299.80" stroke="#1a1a1a" stroke-width="0.8" />
<text x="70.65" y="301.80" font-size="6.35" text-anchor="end" fill="#262626" transform="rotate(-90 70.65 301.80)"  stroke="#262626" stroke-width="0.1">1.00</text>
<line x1="78.03" y1="296.80" x2="78.03" y2="299.80" stroke="#1a1a1a" stroke-width="0.8" />
<text x="80.23" y="301.80" font-size="6.35" text-anchor="end" fill="#262626" transform="rotate(-90 80.23 301.80)"  stroke="#262626" stroke-width="0.1">1.05</text>
<line x1="87.60" y1="296.80" x2="87.60" y2="299.80" stroke="#1a1a1a" stroke-width="0.8" />
<text x="89.80" y="301.80" font-size="6.35" text-anchor="end" fill="#262626" transform="rotate(-90 89.80 301.80)"  stroke="#262626" stroke-width="0.1">1.10</text>
<text x="141.80" y="201.40" font-size="7.9" text-anchor="middle" fill="#111" font-style="italic"  stroke="#111" stroke-width="0.1">adjusted</text>
<line x1="122.10" y1="237.07" x2="161.50" y2="237.07" stroke="#e69f00" stroke-width="1.25" stroke-dasharray="4.6,4.6" stroke-opacity="0.85"/>
<line x1="118.70" y1="210.40" x2="121.60" y2="210.40" stroke="#1a1a1a" stroke-width="0.8" />
<text x="115.40" y="212.60" font-size="6.1" text-anchor="end" fill="#262626"  stroke="#262626" stroke-width="0.1">1</text>
<line x1="118.70" y1="230.90" x2="121.60" y2="230.90" stroke="#1a1a1a" stroke-width="0.8" />
<text x="115.40" y="233.10" font-size="6.1" text-anchor="end" fill="#262626"  stroke="#262626" stroke-width="0.1">0.1</text>
<line x1="118.70" y1="251.40" x2="121.60" y2="251.40" stroke="#1a1a1a" stroke-width="0.8" />
<text x="115.40" y="253.60" font-size="6.1" text-anchor="end" fill="#262626"  stroke="#262626" stroke-width="0.1">0.01</text>
<line x1="118.70" y1="271.90" x2="121.60" y2="271.90" stroke="#1a1a1a" stroke-width="0.8" />
<text x="115.40" y="274.10" font-size="6.1" text-anchor="end" fill="#262626"  stroke="#262626" stroke-width="0.1">0.001</text>
<line x1="118.70" y1="292.40" x2="121.60" y2="292.40" stroke="#1a1a1a" stroke-width="0.8" />
<text x="115.40" y="294.60" font-size="6.1" text-anchor="end" fill="#262626"  stroke="#262626" stroke-width="0.1">1e−04</text>
<line x1="122.70" y1="296.80" x2="122.70" y2="299.80" stroke="#1a1a1a" stroke-width="0.8" />
<text x="124.90" y="301.80" font-size="6.35" text-anchor="end" fill="#262626" transform="rotate(-90 124.90 301.80)"  stroke="#262626" stroke-width="0.1">0.90</text>
<line x1="132.32" y1="296.80" x2="132.32" y2="299.80" stroke="#1a1a1a" stroke-width="0.8" />
<text x="134.52" y="301.80" font-size="6.35" text-anchor="end" fill="#262626" transform="rotate(-90 134.52 301.80)"  stroke="#262626" stroke-width="0.1">0.95</text>
<line x1="141.95" y1="296.80" x2="141.95" y2="299.80" stroke="#1a1a1a" stroke-width="0.8" />
<text x="144.15" y="301.80" font-size="6.35" text-anchor="end" fill="#262626" transform="rotate(-90 144.15 301.80)"  stroke="#262626" stroke-width="0.1">1.00</text>
<line x1="151.57" y1="296.80" x2="151.57" y2="299.80" stroke="#1a1a1a" stroke-width="0.8" />
<text x="153.77" y="301.80" font-size="6.35" text-anchor="end" fill="#262626" transform="rotate(-90 153.77 301.80)"  stroke="#262626" stroke-width="0.1">1.05</text>
<line x1="161.20" y1="296.80" x2="161.20" y2="299.80" stroke="#1a1a1a" stroke-width="0.8" />
<text x="163.40" y="301.80" font-size="6.35" text-anchor="end" fill="#262626" transform="rotate(-90 163.40 301.80)"  stroke="#262626" stroke-width="0.1">1.10</text>
<text x="234.35" y="201.40" font-size="7.9" text-anchor="middle" fill="#111" font-style="italic"  stroke="#111" stroke-width="0.1">unadjusted</text>
<line x1="214.70" y1="237.07" x2="254.00" y2="237.07" stroke="#e69f00" stroke-width="1.25" stroke-dasharray="4.6,4.6" stroke-opacity="0.85"/>
<line x1="211.30" y1="210.40" x2="214.20" y2="210.40" stroke="#1a1a1a" stroke-width="0.8" />
<text x="208.00" y="212.60" font-size="6.1" text-anchor="end" fill="#262626"  stroke="#262626" stroke-width="0.1">1</text>
<line x1="211.30" y1="230.90" x2="214.20" y2="230.90" stroke="#1a1a1a" stroke-width="0.8" />
<text x="208.00" y="233.10" font-size="6.1" text-anchor="end" fill="#262626"  stroke="#262626" stroke-width="0.1">0.1</text>
<line x1="211.30" y1="251.40" x2="214.20" y2="251.40" stroke="#1a1a1a" stroke-width="0.8" />
<text x="208.00" y="253.60" font-size="6.1" text-anchor="end" fill="#262626"  stroke="#262626" stroke-width="0.1">0.01</text>
<line x1="211.30" y1="271.90" x2="214.20" y2="271.90" stroke="#1a1a1a" stroke-width="0.8" />
<text x="208.00" y="274.10" font-size="6.1" text-anchor="end" fill="#262626"  stroke="#262626" stroke-width="0.1">0.001</text>
<line x1="211.30" y1="292.40" x2="214.20" y2="292.40" stroke="#1a1a1a" stroke-width="0.8" />
<text x="208.00" y="294.60" font-size="6.1" text-anchor="end" fill="#262626"  stroke="#262626" stroke-width="0.1">1e−04</text>
<line x1="215.30" y1="296.80" x2="215.30" y2="299.80" stroke="#1a1a1a" stroke-width="0.8" />
<text x="217.50" y="301.80" font-size="6.35" text-anchor="end" fill="#262626" transform="rotate(-90 217.50 301.80)"  stroke="#262626" stroke-width="0.1">0.90</text>
<line x1="224.90" y1="296.80" x2="224.90" y2="299.80" stroke="#1a1a1a" stroke-width="0.8" />
<text x="227.10" y="301.80" font-size="6.35" text-anchor="end" fill="#262626" transform="rotate(-90 227.10 301.80)"  stroke="#262626" stroke-width="0.1">0.95</text>
<line x1="234.50" y1="296.80" x2="234.50" y2="299.80" stroke="#1a1a1a" stroke-width="0.8" />
<text x="236.70" y="301.80" font-size="6.35" text-anchor="end" fill="#262626" transform="rotate(-90 236.70 301.80)"  stroke="#262626" stroke-width="0.1">1.00</text>
<line x1="244.10" y1="296.80" x2="244.10" y2="299.80" stroke="#1a1a1a" stroke-width="0.8" />
<text x="246.30" y="301.80" font-size="6.35" text-anchor="end" fill="#262626" transform="rotate(-90 246.30 301.80)"  stroke="#262626" stroke-width="0.1">1.05</text>
<line x1="253.70" y1="296.80" x2="253.70" y2="299.80" stroke="#1a1a1a" stroke-width="0.8" />
<text x="255.90" y="301.80" font-size="6.35" text-anchor="end" fill="#262626" transform="rotate(-90 255.90 301.80)"  stroke="#262626" stroke-width="0.1">1.10</text>
<text x="306.50" y="201.40" font-size="7.9" text-anchor="middle" fill="#111" font-style="italic"  stroke="#111" stroke-width="0.1">adjusted</text>
<line x1="286.80" y1="237.07" x2="326.20" y2="237.07" stroke="#e69f00" stroke-width="1.25" stroke-dasharray="4.6,4.6" stroke-opacity="0.85"/>
<line x1="283.40" y1="210.40" x2="286.30" y2="210.40" stroke="#1a1a1a" stroke-width="0.8" />
<text x="280.10" y="212.60" font-size="6.1" text-anchor="end" fill="#262626"  stroke="#262626" stroke-width="0.1">1</text>
<line x1="283.40" y1="230.90" x2="286.30" y2="230.90" stroke="#1a1a1a" stroke-width="0.8" />
<text x="280.10" y="233.10" font-size="6.1" text-anchor="end" fill="#262626"  stroke="#262626" stroke-width="0.1">0.1</text>
<line x1="283.40" y1="251.40" x2="286.30" y2="251.40" stroke="#1a1a1a" stroke-width="0.8" />
<text x="280.10" y="253.60" font-size="6.1" text-anchor="end" fill="#262626"  stroke="#262626" stroke-width="0.1">0.01</text>
<line x1="283.40" y1="271.90" x2="286.30" y2="271.90" stroke="#1a1a1a" stroke-width="0.8" />
<text x="280.10" y="274.10" font-size="6.1" text-anchor="end" fill="#262626"  stroke="#262626" stroke-width="0.1">0.001</text>
<line x1="283.40" y1="292.40" x2="286.30" y2="292.40" stroke="#1a1a1a" stroke-width="0.8" />
<text x="280.10" y="294.60" font-size="6.1" text-anchor="end" fill="#262626"  stroke="#262626" stroke-width="0.1">1e−04</text>
<line x1="287.40" y1="296.80" x2="287.40" y2="299.80" stroke="#1a1a1a" stroke-width="0.8" />
<text x="289.60" y="301.80" font-size="6.35" text-anchor="end" fill="#262626" transform="rotate(-90 289.60 301.80)"  stroke="#262626" stroke-width="0.1">0.90</text>
<line x1="297.03" y1="296.80" x2="297.03" y2="299.80" stroke="#1a1a1a" stroke-width="0.8" />
<text x="299.23" y="301.80" font-size="6.35" text-anchor="end" fill="#262626" transform="rotate(-90 299.23 301.80)"  stroke="#262626" stroke-width="0.1">0.95</text>
<line x1="306.65" y1="296.80" x2="306.65" y2="299.80" stroke="#1a1a1a" stroke-width="0.8" />
<text x="308.85" y="301.80" font-size="6.35" text-anchor="end" fill="#262626" transform="rotate(-90 308.85 301.80)"  stroke="#262626" stroke-width="0.1">1.00</text>
<line x1="316.28" y1="296.80" x2="316.28" y2="299.80" stroke="#1a1a1a" stroke-width="0.8" />
<text x="318.48" y="301.80" font-size="6.35" text-anchor="end" fill="#262626" transform="rotate(-90 318.48 301.80)"  stroke="#262626" stroke-width="0.1">1.05</text>
<line x1="325.90" y1="296.80" x2="325.90" y2="299.80" stroke="#1a1a1a" stroke-width="0.8" />
<text x="328.10" y="301.80" font-size="6.35" text-anchor="end" fill="#262626" transform="rotate(-90 328.10 301.80)"  stroke="#262626" stroke-width="0.1">1.10</text>
<text x="400.20" y="201.40" font-size="7.9" text-anchor="middle" fill="#111" font-style="italic"  stroke="#111" stroke-width="0.1">unadjusted</text>
<line x1="380.50" y1="237.07" x2="419.90" y2="237.07" stroke="#e69f00" stroke-width="1.25" stroke-dasharray="4.6,4.6" stroke-opacity="0.85"/>
<line x1="377.10" y1="210.40" x2="380.00" y2="210.40" stroke="#1a1a1a" stroke-width="0.8" />
<text x="373.80" y="212.60" font-size="6.1" text-anchor="end" fill="#262626"  stroke="#262626" stroke-width="0.1">1</text>
<line x1="377.10" y1="230.90" x2="380.00" y2="230.90" stroke="#1a1a1a" stroke-width="0.8" />
<text x="373.80" y="233.10" font-size="6.1" text-anchor="end" fill="#262626"  stroke="#262626" stroke-width="0.1">0.1</text>
<line x1="377.10" y1="251.40" x2="380.00" y2="251.40" stroke="#1a1a1a" stroke-width="0.8" />
<text x="373.80" y="253.60" font-size="6.1" text-anchor="end" fill="#262626"  stroke="#262626" stroke-width="0.1">0.01</text>
<line x1="377.10" y1="271.90" x2="380.00" y2="271.90" stroke="#1a1a1a" stroke-width="0.8" />
<text x="373.80" y="274.10" font-size="6.1" text-anchor="end" fill="#262626"  stroke="#262626" stroke-width="0.1">0.001</text>
<line x1="377.10" y1="292.40" x2="380.00" y2="292.40" stroke="#1a1a1a" stroke-width="0.8" />
<text x="373.80" y="294.60" font-size="6.1" text-anchor="end" fill="#262626"  stroke="#262626" stroke-width="0.1">1e−04</text>
<line x1="381.10" y1="296.80" x2="381.10" y2="299.80" stroke="#1a1a1a" stroke-width="0.8" />
<text x="383.30" y="301.80" font-size="6.35" text-anchor="end" fill="#262626" transform="rotate(-90 383.30 301.80)"  stroke="#262626" stroke-width="0.1">0.90</text>
<line x1="390.73" y1="296.80" x2="390.73" y2="299.80" stroke="#1a1a1a" stroke-width="0.8" />
<text x="392.93" y="301.80" font-size="6.35" text-anchor="end" fill="#262626" transform="rotate(-90 392.93 301.80)"  stroke="#262626" stroke-width="0.1">0.95</text>
<line x1="400.35" y1="296.80" x2="400.35" y2="299.80" stroke="#1a1a1a" stroke-width="0.8" />
<text x="402.55" y="301.80" font-size="6.35" text-anchor="end" fill="#262626" transform="rotate(-90 402.55 301.80)"  stroke="#262626" stroke-width="0.1">1.00</text>
<line x1="409.98" y1="296.80" x2="409.98" y2="299.80" stroke="#1a1a1a" stroke-width="0.8" />
<text x="412.18" y="301.80" font-size="6.35" text-anchor="end" fill="#262626" transform="rotate(-90 412.18 301.80)"  stroke="#262626" stroke-width="0.1">1.05</text>
<line x1="419.60" y1="296.80" x2="419.60" y2="299.80" stroke="#1a1a1a" stroke-width="0.8" />
<text x="421.80" y="301.80" font-size="6.35" text-anchor="end" fill="#262626" transform="rotate(-90 421.80 301.80)"  stroke="#262626" stroke-width="0.1">1.10</text>
<text x="472.85" y="201.40" font-size="7.9" text-anchor="middle" fill="#111" font-style="italic"  stroke="#111" stroke-width="0.1">adjusted</text>
<line x1="453.20" y1="237.07" x2="492.50" y2="237.07" stroke="#e69f00" stroke-width="1.25" stroke-dasharray="4.6,4.6" stroke-opacity="0.85"/>
<line x1="449.80" y1="210.40" x2="452.70" y2="210.40" stroke="#1a1a1a" stroke-width="0.8" />
<text x="446.50" y="212.60" font-size="6.1" text-anchor="end" fill="#262626"  stroke="#262626" stroke-width="0.1">1</text>
<line x1="449.80" y1="230.90" x2="452.70" y2="230.90" stroke="#1a1a1a" stroke-width="0.8" />
<text x="446.50" y="233.10" font-size="6.1" text-anchor="end" fill="#262626"  stroke="#262626" stroke-width="0.1">0.1</text>
<line x1="449.80" y1="251.40" x2="452.70" y2="251.40" stroke="#1a1a1a" stroke-width="0.8" />
<text x="446.50" y="253.60" font-size="6.1" text-anchor="end" fill="#262626"  stroke="#262626" stroke-width="0.1">0.01</text>
<line x1="449.80" y1="271.90" x2="452.70" y2="271.90" stroke="#1a1a1a" stroke-width="0.8" />
<text x="446.50" y="274.10" font-size="6.1" text-anchor="end" fill="#262626"  stroke="#262626" stroke-width="0.1">0.001</text>
<line x1="449.80" y1="292.40" x2="452.70" y2="292.40" stroke="#1a1a1a" stroke-width="0.8" />
<text x="446.50" y="294.60" font-size="6.1" text-anchor="end" fill="#262626"  stroke="#262626" stroke-width="0.1">1e−04</text>
<line x1="453.80" y1="296.80" x2="453.80" y2="299.80" stroke="#1a1a1a" stroke-width="0.8" />
<text x="456.00" y="301.80" font-size="6.35" text-anchor="end" fill="#262626" transform="rotate(-90 456.00 301.80)"  stroke="#262626" stroke-width="0.1">0.90</text>
<line x1="463.40" y1="296.80" x2="463.40" y2="299.80" stroke="#1a1a1a" stroke-width="0.8" />
<text x="465.60" y="301.80" font-size="6.35" text-anchor="end" fill="#262626" transform="rotate(-90 465.60 301.80)"  stroke="#262626" stroke-width="0.1">0.95</text>
<line x1="473.00" y1="296.80" x2="473.00" y2="299.80" stroke="#1a1a1a" stroke-width="0.8" />
<text x="475.20" y="301.80" font-size="6.35" text-anchor="end" fill="#262626" transform="rotate(-90 475.20 301.80)"  stroke="#262626" stroke-width="0.1">1.00</text>
<line x1="482.60" y1="296.80" x2="482.60" y2="299.80" stroke="#1a1a1a" stroke-width="0.8" />
<text x="484.80" y="301.80" font-size="6.35" text-anchor="end" fill="#262626" transform="rotate(-90 484.80 301.80)"  stroke="#262626" stroke-width="0.1">1.05</text>
<line x1="492.20" y1="296.80" x2="492.20" y2="299.80" stroke="#1a1a1a" stroke-width="0.8" />
<text x="494.40" y="301.80" font-size="6.35" text-anchor="end" fill="#262626" transform="rotate(-90 494.40 301.80)"  stroke="#262626" stroke-width="0.1">1.10</text>
<polyline points="59.60,216.70 61.50,213.50 62.70,211.40 64.10,210.60 65.90,211.40 67.50,214.50 69.30,219.50 70.30,219.00 70.90,220.00 72.80,211.40 74.60,214.10 76.40,227.80 77.30,241.40 79.10,256.50 80.40,258.30 81.40,259.60 83.00,259.30 86.00,259.20" fill="none" stroke="#1a4d69" stroke-width="2.0" stroke-linejoin="round" />
<polyline points="59.60,216.70 61.50,213.50 62.70,211.40 64.10,210.60 65.90,211.40 67.50,214.50 69.30,219.50 70.30,219.00 70.90,220.00 72.80,211.40 74.60,214.10 76.40,227.80 77.30,241.40 79.10,256.50 80.40,258.30 81.40,259.60 83.00,259.30 86.00,259.20" fill="none" stroke="#2a7fab" stroke-width="1.0" stroke-linejoin="round" />
<polyline points="69.50,219.00 70.60,226.50 71.00,219.00" fill="none" stroke="#1a4d69" stroke-width="0.9" stroke-linejoin="round" />
<polyline points="133.30,224.00 134.60,224.90 135.90,223.10 137.30,217.40 138.60,212.50 139.60,214.70 140.80,212.10 142.10,211.20 143.20,211.60 144.30,214.30 145.70,218.70 147.00,215.60 148.30,213.00 149.60,212.10 150.50,214.70 151.40,233.30" fill="none" stroke="#1a4d69" stroke-width="2.0" stroke-linejoin="round" />
<polyline points="133.30,224.00 134.60,224.90 135.90,223.10 137.30,217.40 138.60,212.50 139.60,214.70 140.80,212.10 142.10,211.20 143.20,211.60 144.30,214.30 145.70,218.70 147.00,215.60 148.30,213.00 149.60,212.10 150.50,214.70 151.40,233.30" fill="none" stroke="#2a7fab" stroke-width="1.0" stroke-linejoin="round" />
<polyline points="216.40,219.20 219.10,219.00 222.20,219.60 223.50,218.30 225.30,213.80 227.00,211.60 229.30,211.40 231.00,211.40 232.80,211.90 234.60,213.80 236.30,211.60 237.70,211.20 239.00,214.70 239.90,226.20 240.50,235.50" fill="none" stroke="#1a4d69" stroke-width="2.0" stroke-linejoin="round" />
<polyline points="216.40,219.20 219.10,219.00 222.20,219.60 223.50,218.30 225.30,213.80 227.00,211.60 229.30,211.40 231.00,211.40 232.80,211.90 234.60,213.80 236.30,211.60 237.70,211.20 239.00,214.70 239.90,226.20 240.50,235.50" fill="none" stroke="#2a7fab" stroke-width="1.0" stroke-linejoin="round" />
<polyline points="307.50,213.40 308.80,216.10 310.10,218.30 311.40,219.20" fill="none" stroke="#1a4d69" stroke-width="2.0" stroke-linejoin="round" />
<polyline points="307.50,213.40 308.80,216.10 310.10,218.30 311.40,219.20" fill="none" stroke="#2a7fab" stroke-width="1.0" stroke-linejoin="round" />
<polyline points="382.20,221.80 402.80,221.80" fill="none" stroke="#1a4d69" stroke-width="2.0" stroke-linejoin="round" />
<polyline points="382.20,221.80 402.80,221.80" fill="none" stroke="#2a7fab" stroke-width="1.0" stroke-linejoin="round" />
<polyline points="391.70,221.80 392.20,216.50 393.20,216.50 394.40,233.30 395.30,222.70 396.10,227.10 397.00,218.30 398.40,228.90 399.20,218.30 400.60,210.30 401.50,222.70 401.90,234.20 402.60,210.30 402.80,220.90" fill="none" stroke="#222" stroke-width="0.55" stroke-linejoin="round" />
<polyline points="455.30,211.60 458.80,211.40 462.40,212.10 464.20,213.40 465.50,215.20 466.80,214.70 468.10,212.10 469.90,211.20 471.70,212.50 473.50,216.50 474.80,220.00 475.20,221.40 476.10,217.40 477.40,213.40 479.20,209.90 480.50,209.20 482.30,210.30 484.10,211.20 487.20,210.80 490.70,210.50" fill="none" stroke="#1a4d69" stroke-width="2.6" stroke-linejoin="round" />
<polyline points="455.30,211.60 458.80,211.40 462.40,212.10 464.20,213.40 465.50,215.20 466.80,214.70 468.10,212.10 469.90,211.20 471.70,212.50 473.50,216.50 474.80,220.00 475.20,221.40 476.10,217.40 477.40,213.40 479.20,209.90 480.50,209.20 482.30,210.30 484.10,211.20 487.20,210.80 490.70,210.50" fill="none" stroke="#2f86ad" stroke-width="1.5" stroke-linejoin="round" />
<polyline points="475.30,220.00 475.50,239.50 475.80,220.00" fill="none" stroke="#3a3550" stroke-width="0.8" stroke-linejoin="round" />
<rect x="48.20" y="206.40" width="40.20" height="90.40" fill="none" stroke="#1a1a1a" stroke-width="1" />
<rect x="121.60" y="206.40" width="40.40" height="90.40" fill="none" stroke="#1a1a1a" stroke-width="1" />
<rect x="214.20" y="206.40" width="40.30" height="90.40" fill="none" stroke="#1a1a1a" stroke-width="1" />
<rect x="286.30" y="206.40" width="40.40" height="90.40" fill="none" stroke="#1a1a1a" stroke-width="1" />
<rect x="380.00" y="206.40" width="40.40" height="90.40" fill="none" stroke="#1a1a1a" stroke-width="1" />
<rect x="452.70" y="206.40" width="40.30" height="90.40" fill="none" stroke="#1a1a1a" stroke-width="1" />
<text x="19.9" y="251.1" font-size="7.3" text-anchor="middle" fill="#222" textLength="36" lengthAdjust="spacingAndGlyphs" stroke="#222" stroke-width="0.15" transform="rotate(-90 19.9 251.1)"><tspan font-style="italic">P</tspan>-values (Cox)</text>
<text x="48.10" y="324.20" font-size="8.2" text-anchor="start" fill="#222" textLength="91" lengthAdjust="spacingAndGlyphs" stroke="#222" stroke-width="0.12">Recipient chimerism fold change/day</text>
<line x1="145.70" y1="322.20" x2="159.50" y2="322.20" stroke="#111" stroke-width="1.0" />
<polygon points="162.50,322.20 158.00,320.40 158.00,324.00" fill="#111"/>
<text x="7.00" y="349.70" font-size="11" text-anchor="start" fill="#111" font-weight="bold" textLength="7.5" lengthAdjust="spacingAndGlyphs" >C</text>
<polygon points="49.20,352.10 59.50,352.10 59.50,384.50 60.40,384.40 61.50,381.00 62.30,385.00 63.30,384.00 64.50,386.00 65.50,382.00 66.50,386.50 67.80,383.00 68.80,386.00 70.50,385.40 71.80,383.00 73.80,382.50 75.20,381.00 76.70,379.00 78.70,374.30 86.40,373.80 86.40,392.60 79.60,392.60 78.20,395.00 75.80,401.70 74.00,404.00 72.90,406.50 71.00,404.60 69.50,406.00 68.00,406.50 66.00,409.00 64.20,410.40 62.00,412.50 59.90,415.20 59.50,415.20 59.50,442.80 49.20,442.80" fill="#a7a9b6" stroke="none" stroke-width="1" stroke-linejoin="round" />
<polygon points="123.00,352.10 133.00,352.10 133.00,391.40 136.50,391.40 137.50,386.00 138.70,381.80 139.80,387.00 141.90,384.60 143.20,388.00 144.60,386.40 146.00,388.00 147.30,385.00 148.60,387.00 150.00,384.60 151.50,384.00 151.50,352.10 160.20,352.10 160.20,442.80 151.50,442.80 151.40,400.00 150.50,404.00 149.10,412.80 147.30,413.70 145.50,416.40 144.10,406.40 143.00,411.00 141.90,412.80 140.00,410.50 138.20,409.20 137.00,418.00 136.40,423.70 133.00,423.70 133.00,442.80 123.00,442.80" fill="#a7a9b6" stroke="none" stroke-width="1" stroke-linejoin="round" />
<polygon points="216.40,389.40 223.80,389.40 223.80,383.10 229.00,382.50 233.50,380.30 234.00,392.80 235.20,382.50 239.20,379.70 239.90,352.10 252.90,352.10 252.90,442.80 239.90,442.80 239.20,404.20 235.80,408.70 235.20,413.80 233.50,409.90 229.00,411.50 224.40,413.30 223.80,418.40 216.40,418.40" fill="#a7a9b6" stroke="none" stroke-width="1" stroke-linejoin="round" />
<polygon points="287.80,352.10 307.50,352.10 307.50,370.50 311.00,370.50 311.00,352.10 325.20,352.10 325.20,442.80 311.20,442.80 311.20,409.50 309.30,407.50 307.50,409.50 307.50,442.80 287.80,442.80" fill="#a7a9b6" stroke="none" stroke-width="1" stroke-linejoin="round" />
<polygon points="382.20,391.60 392.10,391.60 392.70,388.20 393.40,391.60 396.10,394.50 397.80,392.20 400.00,391.60 402.30,381.40 403.20,352.10 418.60,352.10 418.60,442.80 403.20,442.80 402.30,398.50 400.60,405.30 397.80,411.00 394.90,415.60 392.70,413.80 392.10,416.70 382.20,416.70" fill="#a7a9b6" stroke="none" stroke-width="1" stroke-linejoin="round" />
<polygon points="454.20,352.10 472.10,352.10 472.10,372.00 473.90,376.50 475.60,372.00 475.60,352.10 491.30,352.10 491.30,442.80 475.60,442.80 475.60,423.00 473.90,421.00 472.10,423.00 472.10,442.80 454.20,442.80" fill="#a7a9b6" stroke="none" stroke-width="1" stroke-linejoin="round" />
<line x1="48.70" y1="397.30" x2="87.90" y2="397.30" stroke="#e69f00" stroke-width="1.35" stroke-dasharray="7,2.2" stroke-opacity="0.9"/>
<line x1="122.10" y1="397.30" x2="161.50" y2="397.30" stroke="#e69f00" stroke-width="1.35" stroke-dasharray="7,2.2" stroke-opacity="0.9"/>
<line x1="214.70" y1="397.30" x2="254.00" y2="397.30" stroke="#e69f00" stroke-width="1.35" stroke-dasharray="7,2.2" stroke-opacity="0.9"/>
<line x1="286.80" y1="397.30" x2="326.20" y2="397.30" stroke="#e69f00" stroke-width="1.35" stroke-dasharray="7,2.2" stroke-opacity="0.9"/>
<line x1="380.50" y1="397.30" x2="419.90" y2="397.30" stroke="#e69f00" stroke-width="1.35" stroke-dasharray="7,2.2" stroke-opacity="0.9"/>
<line x1="453.20" y1="397.30" x2="492.50" y2="397.30" stroke="#e69f00" stroke-width="1.35" stroke-dasharray="7,2.2" stroke-opacity="0.9"/>
<polyline points="59.60,352.10 59.60,401.30 61.80,396.90 63.80,398.40 65.70,395.50 67.60,394.50 69.00,397.90 70.00,396.40 71.90,394.00 73.80,393.00 75.80,390.20 77.70,386.80 79.10,383.50 86.30,383.50" fill="none" stroke="#1d4f4c" stroke-width="1.2" stroke-linejoin="round" />
<polyline points="133.10,352.10 132.80,407.30 136.40,407.30 138.70,396.40 139.60,399.10 141.40,397.30 142.30,394.60 144.10,396.40 145.50,403.70 147.30,401.40 150.00,399.10 151.40,398.70 151.40,384.60 151.70,352.10" fill="none" stroke="#1d4f4c" stroke-width="1.2" stroke-linejoin="round" />
<polyline points="216.40,403.80 222.10,403.80 225.50,399.00 228.90,397.90 231.80,397.30 233.50,394.50 235.20,399.00 236.90,395.60 238.60,393.30 239.70,391.60 240.30,381.40" fill="none" stroke="#1d4f4c" stroke-width="1.2" stroke-linejoin="round" />
<polyline points="240.90,381.40 240.90,442.80" fill="none" stroke="#2a8a7a" stroke-width="1.5" stroke-linejoin="round" />
<rect x="307.80" y="370.50" width="3.30" height="18.20" fill="#c3c7cf" stroke="none" stroke-width="1" />
<polyline points="305.70,352.10 305.70,442.80" fill="none" stroke="#2b8a6b" stroke-width="1.9" stroke-linejoin="round" />
<polyline points="307.50,352.10 307.50,389.30 311.40,389.30 311.40,352.10" fill="none" stroke="#1d4f4c" stroke-width="1.1" stroke-linejoin="round" />
<polyline points="307.50,389.30 307.10,393.30" fill="none" stroke="#1d4f4c" stroke-width="1.0" stroke-linejoin="round" />
<polyline points="382.40,404.20 391.50,404.20 393.20,401.30 394.90,404.20 396.60,400.80 397.80,403.00 399.50,400.20 400.60,399.00 401.80,392.80 402.30,388.20 403.10,388.00" fill="none" stroke="#1d4f4c" stroke-width="1.2" stroke-linejoin="round" />
<polyline points="403.10,388.00 403.10,442.80" fill="none" stroke="#1d4f4c" stroke-width="1.0" stroke-linejoin="round" />
<polyline points="454.20,431.00 464.00,431.00 466.80,433.00 466.80,442.80" fill="none" stroke="#1d4f4c" stroke-width="1.2" stroke-linejoin="round" />
<polyline points="470.30,442.80 471.50,412.00 472.70,400.80 474.00,393.00 475.10,380.90 476.00,395.00 476.80,432.00 477.20,400.00 480.00,400.00 484.00,401.00 487.00,404.30 491.30,404.30" fill="none" stroke="#1f6a5a" stroke-width="1.7" stroke-linejoin="round" />
<rect x="48.20" y="352.10" width="40.20" height="90.70" fill="none" stroke="#1a1a1a" stroke-width="1" />
<line x1="45.30" y1="356.23" x2="48.20" y2="356.23" stroke="#1a1a1a" stroke-width="0.8" />
<text x="42.00" y="358.43" font-size="6.1" text-anchor="end" fill="#262626"  stroke="#262626" stroke-width="0.1">1000</text>
<line x1="45.30" y1="369.92" x2="48.20" y2="369.92" stroke="#1a1a1a" stroke-width="0.8" />
<text x="42.00" y="372.12" font-size="6.1" text-anchor="end" fill="#262626"  stroke="#262626" stroke-width="0.1">100</text>
<line x1="45.30" y1="383.61" x2="48.20" y2="383.61" stroke="#1a1a1a" stroke-width="0.8" />
<text x="42.00" y="385.81" font-size="6.1" text-anchor="end" fill="#262626"  stroke="#262626" stroke-width="0.1">10</text>
<line x1="45.30" y1="397.30" x2="48.20" y2="397.30" stroke="#1a1a1a" stroke-width="0.8" />
<text x="42.00" y="399.50" font-size="6.1" text-anchor="end" fill="#262626"  stroke="#262626" stroke-width="0.1">1</text>
<line x1="45.30" y1="410.99" x2="48.20" y2="410.99" stroke="#1a1a1a" stroke-width="0.8" />
<text x="42.00" y="413.19" font-size="6.1" text-anchor="end" fill="#262626"  stroke="#262626" stroke-width="0.1">0.1</text>
<line x1="45.30" y1="424.68" x2="48.20" y2="424.68" stroke="#1a1a1a" stroke-width="0.8" />
<text x="42.00" y="426.88" font-size="6.1" text-anchor="end" fill="#262626"  stroke="#262626" stroke-width="0.1">0.01</text>
<line x1="45.30" y1="438.37" x2="48.20" y2="438.37" stroke="#1a1a1a" stroke-width="0.8" />
<text x="42.00" y="440.57" font-size="6.1" text-anchor="end" fill="#262626"  stroke="#262626" stroke-width="0.1">0.001</text>
<line x1="49.30" y1="442.80" x2="49.30" y2="445.80" stroke="#1a1a1a" stroke-width="0.8" />
<text x="51.50" y="447.80" font-size="6.35" text-anchor="end" fill="#262626" transform="rotate(-90 51.50 447.80)"  stroke="#262626" stroke-width="0.1">0.90</text>
<line x1="58.88" y1="442.80" x2="58.88" y2="445.80" stroke="#1a1a1a" stroke-width="0.8" />
<text x="61.08" y="447.80" font-size="6.35" text-anchor="end" fill="#262626" transform="rotate(-90 61.08 447.80)"  stroke="#262626" stroke-width="0.1">0.95</text>
<line x1="68.45" y1="442.80" x2="68.45" y2="445.80" stroke="#1a1a1a" stroke-width="0.8" />
<text x="70.65" y="447.80" font-size="6.35" text-anchor="end" fill="#262626" transform="rotate(-90 70.65 447.80)"  stroke="#262626" stroke-width="0.1">1.00</text>
<line x1="78.03" y1="442.80" x2="78.03" y2="445.80" stroke="#1a1a1a" stroke-width="0.8" />
<text x="80.23" y="447.80" font-size="6.35" text-anchor="end" fill="#262626" transform="rotate(-90 80.23 447.80)"  stroke="#262626" stroke-width="0.1">1.05</text>
<line x1="87.60" y1="442.80" x2="87.60" y2="445.80" stroke="#1a1a1a" stroke-width="0.8" />
<text x="89.80" y="447.80" font-size="6.35" text-anchor="end" fill="#262626" transform="rotate(-90 89.80 447.80)"  stroke="#262626" stroke-width="0.1">1.10</text>
<rect x="121.60" y="352.10" width="40.40" height="90.70" fill="none" stroke="#1a1a1a" stroke-width="1" />
<line x1="118.70" y1="356.23" x2="121.60" y2="356.23" stroke="#1a1a1a" stroke-width="0.8" />
<text x="115.40" y="358.43" font-size="6.1" text-anchor="end" fill="#262626"  stroke="#262626" stroke-width="0.1">1000</text>
<line x1="118.70" y1="369.92" x2="121.60" y2="369.92" stroke="#1a1a1a" stroke-width="0.8" />
<text x="115.40" y="372.12" font-size="6.1" text-anchor="end" fill="#262626"  stroke="#262626" stroke-width="0.1">100</text>
<line x1="118.70" y1="383.61" x2="121.60" y2="383.61" stroke="#1a1a1a" stroke-width="0.8" />
<text x="115.40" y="385.81" font-size="6.1" text-anchor="end" fill="#262626"  stroke="#262626" stroke-width="0.1">10</text>
<line x1="118.70" y1="397.30" x2="121.60" y2="397.30" stroke="#1a1a1a" stroke-width="0.8" />
<text x="115.40" y="399.50" font-size="6.1" text-anchor="end" fill="#262626"  stroke="#262626" stroke-width="0.1">1</text>
<line x1="118.70" y1="410.99" x2="121.60" y2="410.99" stroke="#1a1a1a" stroke-width="0.8" />
<text x="115.40" y="413.19" font-size="6.1" text-anchor="end" fill="#262626"  stroke="#262626" stroke-width="0.1">0.1</text>
<line x1="118.70" y1="424.68" x2="121.60" y2="424.68" stroke="#1a1a1a" stroke-width="0.8" />
<text x="115.40" y="426.88" font-size="6.1" text-anchor="end" fill="#262626"  stroke="#262626" stroke-width="0.1">0.01</text>
<line x1="118.70" y1="438.37" x2="121.60" y2="438.37" stroke="#1a1a1a" stroke-width="0.8" />
<text x="115.40" y="440.57" font-size="6.1" text-anchor="end" fill="#262626"  stroke="#262626" stroke-width="0.1">0.001</text>
<line x1="122.70" y1="442.80" x2="122.70" y2="445.80" stroke="#1a1a1a" stroke-width="0.8" />
<text x="124.90" y="447.80" font-size="6.35" text-anchor="end" fill="#262626" transform="rotate(-90 124.90 447.80)"  stroke="#262626" stroke-width="0.1">0.90</text>
<line x1="132.32" y1="442.80" x2="132.32" y2="445.80" stroke="#1a1a1a" stroke-width="0.8" />
<text x="134.52" y="447.80" font-size="6.35" text-anchor="end" fill="#262626" transform="rotate(-90 134.52 447.80)"  stroke="#262626" stroke-width="0.1">0.95</text>
<line x1="141.95" y1="442.80" x2="141.95" y2="445.80" stroke="#1a1a1a" stroke-width="0.8" />
<text x="144.15" y="447.80" font-size="6.35" text-anchor="end" fill="#262626" transform="rotate(-90 144.15 447.80)"  stroke="#262626" stroke-width="0.1">1.00</text>
<line x1="151.57" y1="442.80" x2="151.57" y2="445.80" stroke="#1a1a1a" stroke-width="0.8" />
<text x="153.77" y="447.80" font-size="6.35" text-anchor="end" fill="#262626" transform="rotate(-90 153.77 447.80)"  stroke="#262626" stroke-width="0.1">1.05</text>
<line x1="161.20" y1="442.80" x2="161.20" y2="445.80" stroke="#1a1a1a" stroke-width="0.8" />
<text x="163.40" y="447.80" font-size="6.35" text-anchor="end" fill="#262626" transform="rotate(-90 163.40 447.80)"  stroke="#262626" stroke-width="0.1">1.10</text>
<rect x="214.20" y="352.10" width="40.30" height="90.70" fill="none" stroke="#1a1a1a" stroke-width="1" />
<line x1="211.30" y1="356.23" x2="214.20" y2="356.23" stroke="#1a1a1a" stroke-width="0.8" />
<text x="208.00" y="358.43" font-size="6.1" text-anchor="end" fill="#262626"  stroke="#262626" stroke-width="0.1">1000</text>
<line x1="211.30" y1="369.92" x2="214.20" y2="369.92" stroke="#1a1a1a" stroke-width="0.8" />
<text x="208.00" y="372.12" font-size="6.1" text-anchor="end" fill="#262626"  stroke="#262626" stroke-width="0.1">100</text>
<line x1="211.30" y1="383.61" x2="214.20" y2="383.61" stroke="#1a1a1a" stroke-width="0.8" />
<text x="208.00" y="385.81" font-size="6.1" text-anchor="end" fill="#262626"  stroke="#262626" stroke-width="0.1">10</text>
<line x1="211.30" y1="397.30" x2="214.20" y2="397.30" stroke="#1a1a1a" stroke-width="0.8" />
<text x="208.00" y="399.50" font-size="6.1" text-anchor="end" fill="#262626"  stroke="#262626" stroke-width="0.1">1</text>
<line x1="211.30" y1="410.99" x2="214.20" y2="410.99" stroke="#1a1a1a" stroke-width="0.8" />
<text x="208.00" y="413.19" font-size="6.1" text-anchor="end" fill="#262626"  stroke="#262626" stroke-width="0.1">0.1</text>
<line x1="211.30" y1="424.68" x2="214.20" y2="424.68" stroke="#1a1a1a" stroke-width="0.8" />
<text x="208.00" y="426.88" font-size="6.1" text-anchor="end" fill="#262626"  stroke="#262626" stroke-width="0.1">0.01</text>
<line x1="211.30" y1="438.37" x2="214.20" y2="438.37" stroke="#1a1a1a" stroke-width="0.8" />
<text x="208.00" y="440.57" font-size="6.1" text-anchor="end" fill="#262626"  stroke="#262626" stroke-width="0.1">0.001</text>
<line x1="215.30" y1="442.80" x2="215.30" y2="445.80" stroke="#1a1a1a" stroke-width="0.8" />
<text x="217.50" y="447.80" font-size="6.35" text-anchor="end" fill="#262626" transform="rotate(-90 217.50 447.80)"  stroke="#262626" stroke-width="0.1">0.90</text>
<line x1="224.90" y1="442.80" x2="224.90" y2="445.80" stroke="#1a1a1a" stroke-width="0.8" />
<text x="227.10" y="447.80" font-size="6.35" text-anchor="end" fill="#262626" transform="rotate(-90 227.10 447.80)"  stroke="#262626" stroke-width="0.1">0.95</text>
<line x1="234.50" y1="442.80" x2="234.50" y2="445.80" stroke="#1a1a1a" stroke-width="0.8" />
<text x="236.70" y="447.80" font-size="6.35" text-anchor="end" fill="#262626" transform="rotate(-90 236.70 447.80)"  stroke="#262626" stroke-width="0.1">1.00</text>
<line x1="244.10" y1="442.80" x2="244.10" y2="445.80" stroke="#1a1a1a" stroke-width="0.8" />
<text x="246.30" y="447.80" font-size="6.35" text-anchor="end" fill="#262626" transform="rotate(-90 246.30 447.80)"  stroke="#262626" stroke-width="0.1">1.05</text>
<line x1="253.70" y1="442.80" x2="253.70" y2="445.80" stroke="#1a1a1a" stroke-width="0.8" />
<text x="255.90" y="447.80" font-size="6.35" text-anchor="end" fill="#262626" transform="rotate(-90 255.90 447.80)"  stroke="#262626" stroke-width="0.1">1.10</text>
<rect x="286.30" y="352.10" width="40.40" height="90.70" fill="none" stroke="#1a1a1a" stroke-width="1" />
<line x1="283.40" y1="356.23" x2="286.30" y2="356.23" stroke="#1a1a1a" stroke-width="0.8" />
<text x="280.10" y="358.43" font-size="6.1" text-anchor="end" fill="#262626"  stroke="#262626" stroke-width="0.1">1000</text>
<line x1="283.40" y1="369.92" x2="286.30" y2="369.92" stroke="#1a1a1a" stroke-width="0.8" />
<text x="280.10" y="372.12" font-size="6.1" text-anchor="end" fill="#262626"  stroke="#262626" stroke-width="0.1">100</text>
<line x1="283.40" y1="383.61" x2="286.30" y2="383.61" stroke="#1a1a1a" stroke-width="0.8" />
<text x="280.10" y="385.81" font-size="6.1" text-anchor="end" fill="#262626"  stroke="#262626" stroke-width="0.1">10</text>
<line x1="283.40" y1="397.30" x2="286.30" y2="397.30" stroke="#1a1a1a" stroke-width="0.8" />
<text x="280.10" y="399.50" font-size="6.1" text-anchor="end" fill="#262626"  stroke="#262626" stroke-width="0.1">1</text>
<line x1="283.40" y1="410.99" x2="286.30" y2="410.99" stroke="#1a1a1a" stroke-width="0.8" />
<text x="280.10" y="413.19" font-size="6.1" text-anchor="end" fill="#262626"  stroke="#262626" stroke-width="0.1">0.1</text>
<line x1="283.40" y1="424.68" x2="286.30" y2="424.68" stroke="#1a1a1a" stroke-width="0.8" />
<text x="280.10" y="426.88" font-size="6.1" text-anchor="end" fill="#262626"  stroke="#262626" stroke-width="0.1">0.01</text>
<line x1="283.40" y1="438.37" x2="286.30" y2="438.37" stroke="#1a1a1a" stroke-width="0.8" />
<text x="280.10" y="440.57" font-size="6.1" text-anchor="end" fill="#262626"  stroke="#262626" stroke-width="0.1">0.001</text>
<line x1="287.40" y1="442.80" x2="287.40" y2="445.80" stroke="#1a1a1a" stroke-width="0.8" />
<text x="289.60" y="447.80" font-size="6.35" text-anchor="end" fill="#262626" transform="rotate(-90 289.60 447.80)"  stroke="#262626" stroke-width="0.1">0.90</text>
<line x1="297.03" y1="442.80" x2="297.03" y2="445.80" stroke="#1a1a1a" stroke-width="0.8" />
<text x="299.23" y="447.80" font-size="6.35" text-anchor="end" fill="#262626" transform="rotate(-90 299.23 447.80)"  stroke="#262626" stroke-width="0.1">0.95</text>
<line x1="306.65" y1="442.80" x2="306.65" y2="445.80" stroke="#1a1a1a" stroke-width="0.8" />
<text x="308.85" y="447.80" font-size="6.35" text-anchor="end" fill="#262626" transform="rotate(-90 308.85 447.80)"  stroke="#262626" stroke-width="0.1">1.00</text>
<line x1="316.28" y1="442.80" x2="316.28" y2="445.80" stroke="#1a1a1a" stroke-width="0.8" />
<text x="318.48" y="447.80" font-size="6.35" text-anchor="end" fill="#262626" transform="rotate(-90 318.48 447.80)"  stroke="#262626" stroke-width="0.1">1.05</text>
<line x1="325.90" y1="442.80" x2="325.90" y2="445.80" stroke="#1a1a1a" stroke-width="0.8" />
<text x="328.10" y="447.80" font-size="6.35" text-anchor="end" fill="#262626" transform="rotate(-90 328.10 447.80)"  stroke="#262626" stroke-width="0.1">1.10</text>
<rect x="380.00" y="352.10" width="40.40" height="90.70" fill="none" stroke="#1a1a1a" stroke-width="1" />
<line x1="377.10" y1="356.23" x2="380.00" y2="356.23" stroke="#1a1a1a" stroke-width="0.8" />
<text x="373.80" y="358.43" font-size="6.1" text-anchor="end" fill="#262626"  stroke="#262626" stroke-width="0.1">1000</text>
<line x1="377.10" y1="369.92" x2="380.00" y2="369.92" stroke="#1a1a1a" stroke-width="0.8" />
<text x="373.80" y="372.12" font-size="6.1" text-anchor="end" fill="#262626"  stroke="#262626" stroke-width="0.1">100</text>
<line x1="377.10" y1="383.61" x2="380.00" y2="383.61" stroke="#1a1a1a" stroke-width="0.8" />
<text x="373.80" y="385.81" font-size="6.1" text-anchor="end" fill="#262626"  stroke="#262626" stroke-width="0.1">10</text>
<line x1="377.10" y1="397.30" x2="380.00" y2="397.30" stroke="#1a1a1a" stroke-width="0.8" />
<text x="373.80" y="399.50" font-size="6.1" text-anchor="end" fill="#262626"  stroke="#262626" stroke-width="0.1">1</text>
<line x1="377.10" y1="410.99" x2="380.00" y2="410.99" stroke="#1a1a1a" stroke-width="0.8" />
<text x="373.80" y="413.19" font-size="6.1" text-anchor="end" fill="#262626"  stroke="#262626" stroke-width="0.1">0.1</text>
<line x1="377.10" y1="424.68" x2="380.00" y2="424.68" stroke="#1a1a1a" stroke-width="0.8" />
<text x="373.80" y="426.88" font-size="6.1" text-anchor="end" fill="#262626"  stroke="#262626" stroke-width="0.1">0.01</text>
<line x1="377.10" y1="438.37" x2="380.00" y2="438.37" stroke="#1a1a1a" stroke-width="0.8" />
<text x="373.80" y="440.57" font-size="6.1" text-anchor="end" fill="#262626"  stroke="#262626" stroke-width="0.1">0.001</text>
<line x1="381.10" y1="442.80" x2="381.10" y2="445.80" stroke="#1a1a1a" stroke-width="0.8" />
<text x="383.30" y="447.80" font-size="6.35" text-anchor="end" fill="#262626" transform="rotate(-90 383.30 447.80)"  stroke="#262626" stroke-width="0.1">0.90</text>
<line x1="390.73" y1="442.80" x2="390.73" y2="445.80" stroke="#1a1a1a" stroke-width="0.8" />
<text x="392.93" y="447.80" font-size="6.35" text-anchor="end" fill="#262626" transform="rotate(-90 392.93 447.80)"  stroke="#262626" stroke-width="0.1">0.95</text>
<line x1="400.35" y1="442.80" x2="400.35" y2="445.80" stroke="#1a1a1a" stroke-width="0.8" />
<text x="402.55" y="447.80" font-size="6.35" text-anchor="end" fill="#262626" transform="rotate(-90 402.55 447.80)"  stroke="#262626" stroke-width="0.1">1.00</text>
<line x1="409.98" y1="442.80" x2="409.98" y2="445.80" stroke="#1a1a1a" stroke-width="0.8" />
<text x="412.18" y="447.80" font-size="6.35" text-anchor="end" fill="#262626" transform="rotate(-90 412.18 447.80)"  stroke="#262626" stroke-width="0.1">1.05</text>
<line x1="419.60" y1="442.80" x2="419.60" y2="445.80" stroke="#1a1a1a" stroke-width="0.8" />
<text x="421.80" y="447.80" font-size="6.35" text-anchor="end" fill="#262626" transform="rotate(-90 421.80 447.80)"  stroke="#262626" stroke-width="0.1">1.10</text>
<rect x="452.70" y="352.10" width="40.30" height="90.70" fill="none" stroke="#1a1a1a" stroke-width="1" />
<line x1="449.80" y1="356.23" x2="452.70" y2="356.23" stroke="#1a1a1a" stroke-width="0.8" />
<text x="446.50" y="358.43" font-size="6.1" text-anchor="end" fill="#262626"  stroke="#262626" stroke-width="0.1">1000</text>
<line x1="449.80" y1="369.92" x2="452.70" y2="369.92" stroke="#1a1a1a" stroke-width="0.8" />
<text x="446.50" y="372.12" font-size="6.1" text-anchor="end" fill="#262626"  stroke="#262626" stroke-width="0.1">100</text>
<line x1="449.80" y1="383.61" x2="452.70" y2="383.61" stroke="#1a1a1a" stroke-width="0.8" />
<text x="446.50" y="385.81" font-size="6.1" text-anchor="end" fill="#262626"  stroke="#262626" stroke-width="0.1">10</text>
<line x1="449.80" y1="397.30" x2="452.70" y2="397.30" stroke="#1a1a1a" stroke-width="0.8" />
<text x="446.50" y="399.50" font-size="6.1" text-anchor="end" fill="#262626"  stroke="#262626" stroke-width="0.1">1</text>
<line x1="449.80" y1="410.99" x2="452.70" y2="410.99" stroke="#1a1a1a" stroke-width="0.8" />
<text x="446.50" y="413.19" font-size="6.1" text-anchor="end" fill="#262626"  stroke="#262626" stroke-width="0.1">0.1</text>
<line x1="449.80" y1="424.68" x2="452.70" y2="424.68" stroke="#1a1a1a" stroke-width="0.8" />
<text x="446.50" y="426.88" font-size="6.1" text-anchor="end" fill="#262626"  stroke="#262626" stroke-width="0.1">0.01</text>
<line x1="449.80" y1="438.37" x2="452.70" y2="438.37" stroke="#1a1a1a" stroke-width="0.8" />
<text x="446.50" y="440.57" font-size="6.1" text-anchor="end" fill="#262626"  stroke="#262626" stroke-width="0.1">0.001</text>
<line x1="453.80" y1="442.80" x2="453.80" y2="445.80" stroke="#1a1a1a" stroke-width="0.8" />
<text x="456.00" y="447.80" font-size="6.35" text-anchor="end" fill="#262626" transform="rotate(-90 456.00 447.80)"  stroke="#262626" stroke-width="0.1">0.90</text>
<line x1="463.40" y1="442.80" x2="463.40" y2="445.80" stroke="#1a1a1a" stroke-width="0.8" />
<text x="465.60" y="447.80" font-size="6.35" text-anchor="end" fill="#262626" transform="rotate(-90 465.60 447.80)"  stroke="#262626" stroke-width="0.1">0.95</text>
<line x1="473.00" y1="442.80" x2="473.00" y2="445.80" stroke="#1a1a1a" stroke-width="0.8" />
<text x="475.20" y="447.80" font-size="6.35" text-anchor="end" fill="#262626" transform="rotate(-90 475.20 447.80)"  stroke="#262626" stroke-width="0.1">1.00</text>
<line x1="482.60" y1="442.80" x2="482.60" y2="445.80" stroke="#1a1a1a" stroke-width="0.8" />
<text x="484.80" y="447.80" font-size="6.35" text-anchor="end" fill="#262626" transform="rotate(-90 484.80 447.80)"  stroke="#262626" stroke-width="0.1">1.05</text>
<line x1="492.20" y1="442.80" x2="492.20" y2="445.80" stroke="#1a1a1a" stroke-width="0.8" />
<text x="494.40" y="447.80" font-size="6.35" text-anchor="end" fill="#262626" transform="rotate(-90 494.40 447.80)"  stroke="#262626" stroke-width="0.1">1.10</text>
<text x="23.40" y="397.40" font-size="7.3" text-anchor="middle" fill="#222" textLength="72" lengthAdjust="spacingAndGlyphs" transform="rotate(-90 23.40 397.40)" stroke="#222" stroke-width="0.15">Hazard ratios &amp; 95% CI (Cox)</text>
<text x="47.90" y="469.30" font-size="8.2" text-anchor="start" fill="#222" textLength="90.9" lengthAdjust="spacingAndGlyphs" stroke="#222" stroke-width="0.12">Recipient chimerism fold-change/day</text>
<line x1="145.70" y1="467.00" x2="159.50" y2="467.00" stroke="#111" stroke-width="1.0" />
<polygon points="162.50,467.00 158.00,465.20 158.00,468.80" fill="#111"/>
<polyline points="77.50,442.50 77.50,477.80" fill="none" stroke="#e3607f" stroke-width="0.9" stroke-linejoin="round" stroke-dasharray="1.8,1.8"/>
<polyline points="49.30,495.50 49.30,485.80 77.50,477.80 162.40,485.80 162.40,495.50" fill="none" stroke="#e3607f" stroke-width="0.9" stroke-linejoin="round" stroke-dasharray="1.8,1.8"/>
<polyline points="240.50,442.50 240.50,477.80" fill="none" stroke="#e3607f" stroke-width="0.9" stroke-linejoin="round" stroke-dasharray="1.8,1.8"/>
<polyline points="215.40,495.50 215.40,485.80 240.50,477.80 328.70,485.80 328.70,495.50" fill="none" stroke="#e3607f" stroke-width="0.9" stroke-linejoin="round" stroke-dasharray="1.8,1.8"/>
<polyline points="402.50,442.50 402.50,477.80" fill="none" stroke="#e3607f" stroke-width="0.9" stroke-linejoin="round" stroke-dasharray="1.8,1.8"/>
<polyline points="380.50,495.50 380.50,485.80 402.50,477.80 494.20,485.80 494.20,495.50" fill="none" stroke="#e3607f" stroke-width="0.9" stroke-linejoin="round" stroke-dasharray="1.8,1.8"/>
<text x="6.80" y="506.40" font-size="11" text-anchor="start" fill="#111" font-weight="bold" textLength="7.5" lengthAdjust="spacingAndGlyphs" >D</text>
<line x1="41.50" y1="505.20" x2="47.70" y2="505.20" stroke="#4aaa4a" stroke-width="1.1" />
<line x1="44.60" y1="503.60" x2="44.60" y2="506.80" stroke="#4aaa4a" stroke-width="0.8" />
<text x="51.10" y="507.30" font-size="6.0" text-anchor="start" fill="#262626" textLength="51.7" lengthAdjust="spacingAndGlyphs"  stroke="#262626" stroke-width="0.1">fold change ≤ 1.042</text>
<line x1="110.30" y1="505.20" x2="116.50" y2="505.20" stroke="#c0304c" stroke-width="1.1" />
<line x1="113.40" y1="503.60" x2="113.40" y2="506.80" stroke="#c0304c" stroke-width="0.8" />
<text x="119.70" y="507.30" font-size="6.0" text-anchor="start" fill="#262626" textLength="52.5" lengthAdjust="spacingAndGlyphs"  stroke="#262626" stroke-width="0.1">fold change &gt; 1.042</text>
<line x1="45.90" y1="519.50" x2="49.50" y2="519.50" stroke="#1a1a1a" stroke-width="0.8" />
<text x="43.30" y="521.70" font-size="6.1" text-anchor="end" fill="#262626"  stroke="#262626" stroke-width="0.1">1.00</text>
<line x1="45.90" y1="545.24" x2="49.50" y2="545.24" stroke="#1a1a1a" stroke-width="0.8" />
<text x="43.30" y="547.44" font-size="6.1" text-anchor="end" fill="#262626"  stroke="#262626" stroke-width="0.1">0.75</text>
<line x1="45.90" y1="570.98" x2="49.50" y2="570.98" stroke="#1a1a1a" stroke-width="0.8" />
<text x="43.30" y="573.18" font-size="6.1" text-anchor="end" fill="#262626"  stroke="#262626" stroke-width="0.1">0.50</text>
<line x1="45.90" y1="596.71" x2="49.50" y2="596.71" stroke="#1a1a1a" stroke-width="0.8" />
<text x="43.30" y="598.91" font-size="6.1" text-anchor="end" fill="#262626"  stroke="#262626" stroke-width="0.1">0.25</text>
<line x1="45.90" y1="622.45" x2="49.50" y2="622.45" stroke="#1a1a1a" stroke-width="0.8" />
<text x="43.30" y="624.65" font-size="6.1" text-anchor="end" fill="#262626"  stroke="#262626" stroke-width="0.1">0.00</text>
<line x1="54.40" y1="627.80" x2="54.40" y2="630.40" stroke="#1a1a1a" stroke-width="0.8" />
<text x="54.40" y="638.40" font-size="6.1" text-anchor="middle" fill="#262626"  stroke="#262626" stroke-width="0.1">0</text>
<line x1="74.91" y1="627.80" x2="74.91" y2="630.40" stroke="#1a1a1a" stroke-width="0.8" />
<text x="74.91" y="638.40" font-size="6.1" text-anchor="middle" fill="#262626"  stroke="#262626" stroke-width="0.1">365</text>
<line x1="95.43" y1="627.80" x2="95.43" y2="630.40" stroke="#1a1a1a" stroke-width="0.8" />
<text x="95.43" y="638.40" font-size="6.1" text-anchor="middle" fill="#262626"  stroke="#262626" stroke-width="0.1">730</text>
<line x1="115.94" y1="627.80" x2="115.94" y2="630.40" stroke="#1a1a1a" stroke-width="0.8" />
<text x="115.94" y="638.40" font-size="6.1" text-anchor="middle" fill="#262626"  stroke="#262626" stroke-width="0.1">1095</text>
<line x1="136.45" y1="627.80" x2="136.45" y2="630.40" stroke="#1a1a1a" stroke-width="0.8" />
<text x="136.45" y="638.40" font-size="6.1" text-anchor="middle" fill="#262626"  stroke="#262626" stroke-width="0.1">1460</text>
<line x1="156.97" y1="627.80" x2="156.97" y2="630.40" stroke="#1a1a1a" stroke-width="0.8" />
<text x="156.97" y="638.40" font-size="6.1" text-anchor="middle" fill="#262626"  stroke="#262626" stroke-width="0.1">1825</text>
<text x="157.10" y="524.50" font-size="5.65" text-anchor="end" fill="#262626"  stroke="#262626" stroke-width="0.1">HR = 5.7 [1.2 to 27.7]</text>
<text x="157.10" y="533.40" font-size="5.65" text-anchor="end" fill="#262626"  stroke="#262626" stroke-width="0.1">adj.HR = 8.0 [0.7 to 88.7]</text>
<line x1="207.50" y1="505.20" x2="213.70" y2="505.20" stroke="#4aaa4a" stroke-width="1.1" />
<line x1="210.60" y1="503.60" x2="210.60" y2="506.80" stroke="#4aaa4a" stroke-width="0.8" />
<text x="217.10" y="507.30" font-size="6.0" text-anchor="start" fill="#262626" textLength="51.7" lengthAdjust="spacingAndGlyphs"  stroke="#262626" stroke-width="0.1">fold change ≤ 1.025</text>
<line x1="276.30" y1="505.20" x2="282.50" y2="505.20" stroke="#c0304c" stroke-width="1.1" />
<line x1="279.40" y1="503.60" x2="279.40" y2="506.80" stroke="#c0304c" stroke-width="0.8" />
<text x="285.70" y="507.30" font-size="6.0" text-anchor="start" fill="#262626" textLength="52.5" lengthAdjust="spacingAndGlyphs"  stroke="#262626" stroke-width="0.1">fold change &gt; 1.025</text>
<line x1="211.90" y1="519.50" x2="215.50" y2="519.50" stroke="#1a1a1a" stroke-width="0.8" />
<text x="209.30" y="521.70" font-size="6.1" text-anchor="end" fill="#262626"  stroke="#262626" stroke-width="0.1">1.00</text>
<line x1="211.90" y1="545.24" x2="215.50" y2="545.24" stroke="#1a1a1a" stroke-width="0.8" />
<text x="209.30" y="547.44" font-size="6.1" text-anchor="end" fill="#262626"  stroke="#262626" stroke-width="0.1">0.75</text>
<line x1="211.90" y1="570.98" x2="215.50" y2="570.98" stroke="#1a1a1a" stroke-width="0.8" />
<text x="209.30" y="573.18" font-size="6.1" text-anchor="end" fill="#262626"  stroke="#262626" stroke-width="0.1">0.50</text>
<line x1="211.90" y1="596.71" x2="215.50" y2="596.71" stroke="#1a1a1a" stroke-width="0.8" />
<text x="209.30" y="598.91" font-size="6.1" text-anchor="end" fill="#262626"  stroke="#262626" stroke-width="0.1">0.25</text>
<line x1="211.90" y1="622.45" x2="215.50" y2="622.45" stroke="#1a1a1a" stroke-width="0.8" />
<text x="209.30" y="624.65" font-size="6.1" text-anchor="end" fill="#262626"  stroke="#262626" stroke-width="0.1">0.00</text>
<line x1="220.40" y1="627.80" x2="220.40" y2="630.40" stroke="#1a1a1a" stroke-width="0.8" />
<text x="220.40" y="638.40" font-size="6.1" text-anchor="middle" fill="#262626"  stroke="#262626" stroke-width="0.1">0</text>
<line x1="240.91" y1="627.80" x2="240.91" y2="630.40" stroke="#1a1a1a" stroke-width="0.8" />
<text x="240.91" y="638.40" font-size="6.1" text-anchor="middle" fill="#262626"  stroke="#262626" stroke-width="0.1">365</text>
<line x1="261.43" y1="627.80" x2="261.43" y2="630.40" stroke="#1a1a1a" stroke-width="0.8" />
<text x="261.43" y="638.40" font-size="6.1" text-anchor="middle" fill="#262626"  stroke="#262626" stroke-width="0.1">730</text>
<line x1="281.94" y1="627.80" x2="281.94" y2="630.40" stroke="#1a1a1a" stroke-width="0.8" />
<text x="281.94" y="638.40" font-size="6.1" text-anchor="middle" fill="#262626"  stroke="#262626" stroke-width="0.1">1095</text>
<line x1="302.45" y1="627.80" x2="302.45" y2="630.40" stroke="#1a1a1a" stroke-width="0.8" />
<text x="302.45" y="638.40" font-size="6.1" text-anchor="middle" fill="#262626"  stroke="#262626" stroke-width="0.1">1460</text>
<line x1="322.97" y1="627.80" x2="322.97" y2="630.40" stroke="#1a1a1a" stroke-width="0.8" />
<text x="322.97" y="638.40" font-size="6.1" text-anchor="middle" fill="#262626"  stroke="#262626" stroke-width="0.1">1825</text>
<text x="325.40" y="531.00" font-size="5.65" text-anchor="end" fill="#262626"  stroke="#262626" stroke-width="0.1">HR = 15.0 [0.9 to 239.8]</text>
<text x="325.40" y="539.90" font-size="5.65" text-anchor="end" fill="#262626"  stroke="#262626" stroke-width="0.1">adj.HR = 1.54979e+12 [0.0 to Inf]</text>
<line x1="372.90" y1="505.20" x2="379.10" y2="505.20" stroke="#4aaa4a" stroke-width="1.1" />
<line x1="376.00" y1="503.60" x2="376.00" y2="506.80" stroke="#4aaa4a" stroke-width="0.8" />
<text x="382.50" y="507.30" font-size="6.0" text-anchor="start" fill="#262626" textLength="51.7" lengthAdjust="spacingAndGlyphs"  stroke="#262626" stroke-width="0.1">fold change ≤ 1.006</text>
<line x1="441.70" y1="505.20" x2="447.90" y2="505.20" stroke="#c0304c" stroke-width="1.1" />
<line x1="444.80" y1="503.60" x2="444.80" y2="506.80" stroke="#c0304c" stroke-width="0.8" />
<text x="451.10" y="507.30" font-size="6.0" text-anchor="start" fill="#262626" textLength="52.5" lengthAdjust="spacingAndGlyphs"  stroke="#262626" stroke-width="0.1">fold change &gt; 1.006</text>
<line x1="377.30" y1="519.50" x2="380.90" y2="519.50" stroke="#1a1a1a" stroke-width="0.8" />
<text x="374.70" y="521.70" font-size="6.1" text-anchor="end" fill="#262626"  stroke="#262626" stroke-width="0.1">1.00</text>
<line x1="377.30" y1="545.24" x2="380.90" y2="545.24" stroke="#1a1a1a" stroke-width="0.8" />
<text x="374.70" y="547.44" font-size="6.1" text-anchor="end" fill="#262626"  stroke="#262626" stroke-width="0.1">0.75</text>
<line x1="377.30" y1="570.98" x2="380.90" y2="570.98" stroke="#1a1a1a" stroke-width="0.8" />
<text x="374.70" y="573.18" font-size="6.1" text-anchor="end" fill="#262626"  stroke="#262626" stroke-width="0.1">0.50</text>
<line x1="377.30" y1="596.71" x2="380.90" y2="596.71" stroke="#1a1a1a" stroke-width="0.8" />
<text x="374.70" y="598.91" font-size="6.1" text-anchor="end" fill="#262626"  stroke="#262626" stroke-width="0.1">0.25</text>
<line x1="377.30" y1="622.45" x2="380.90" y2="622.45" stroke="#1a1a1a" stroke-width="0.8" />
<text x="374.70" y="624.65" font-size="6.1" text-anchor="end" fill="#262626"  stroke="#262626" stroke-width="0.1">0.00</text>
<line x1="385.80" y1="627.80" x2="385.80" y2="630.40" stroke="#1a1a1a" stroke-width="0.8" />
<text x="385.80" y="638.40" font-size="6.1" text-anchor="middle" fill="#262626"  stroke="#262626" stroke-width="0.1">0</text>
<line x1="406.31" y1="627.80" x2="406.31" y2="630.40" stroke="#1a1a1a" stroke-width="0.8" />
<text x="406.31" y="638.40" font-size="6.1" text-anchor="middle" fill="#262626"  stroke="#262626" stroke-width="0.1">365</text>
<line x1="426.83" y1="627.80" x2="426.83" y2="630.40" stroke="#1a1a1a" stroke-width="0.8" />
<text x="426.83" y="638.40" font-size="6.1" text-anchor="middle" fill="#262626"  stroke="#262626" stroke-width="0.1">730</text>
<line x1="447.34" y1="627.80" x2="447.34" y2="630.40" stroke="#1a1a1a" stroke-width="0.8" />
<text x="447.34" y="638.40" font-size="6.1" text-anchor="middle" fill="#262626"  stroke="#262626" stroke-width="0.1">1095</text>
<line x1="467.85" y1="627.80" x2="467.85" y2="630.40" stroke="#1a1a1a" stroke-width="0.8" />
<text x="467.85" y="638.40" font-size="6.1" text-anchor="middle" fill="#262626"  stroke="#262626" stroke-width="0.1">1460</text>
<line x1="488.36" y1="627.80" x2="488.36" y2="630.40" stroke="#1a1a1a" stroke-width="0.8" />
<text x="488.36" y="638.40" font-size="6.1" text-anchor="middle" fill="#262626"  stroke="#262626" stroke-width="0.1">1825</text>
<text x="491.10" y="521.70" font-size="5.65" text-anchor="end" fill="#262626"  stroke="#262626" stroke-width="0.1">HR = 3.6 [0.8 to 16.9]</text>
<text x="491.10" y="530.60" font-size="5.65" text-anchor="end" fill="#262626"  stroke="#262626" stroke-width="0.1">adj.HR = 14.5 [1.2 to 177.4]</text>
<polyline points="54.90,571.20 63.00,571.20" fill="none" stroke="#222" stroke-width="0.9" stroke-linejoin="round" stroke-dasharray="1.6,1.6"/>
<polyline points="63.60,588.00 63.60,622.30" fill="none" stroke="#222" stroke-width="0.9" stroke-linejoin="round" stroke-dasharray="1.6,1.6"/>
<polyline points="59.50,622.30 64.00,622.30 64.00,621.00 66.50,621.00 66.50,618.00 68.20,618.00 68.20,614.00 69.30,614.00 69.30,612.00 71.10,612.00 71.10,610.80 81.50,610.80 81.50,609.60 161.20,609.60" fill="none" stroke="#4aaa4a" stroke-width="1.2" stroke-linejoin="round" />
<line x1="61.00" y1="620.30" x2="61.00" y2="624.30" stroke="#4aaa4a" stroke-width="0.75" />
<line x1="62.20" y1="620.30" x2="62.20" y2="624.30" stroke="#4aaa4a" stroke-width="0.75" />
<line x1="63.30" y1="620.30" x2="63.30" y2="624.30" stroke="#4aaa4a" stroke-width="0.75" />
<line x1="65.00" y1="619.00" x2="65.00" y2="623.00" stroke="#4aaa4a" stroke-width="0.75" />
<line x1="74.00" y1="608.80" x2="74.00" y2="612.80" stroke="#4aaa4a" stroke-width="0.75" />
<line x1="75.50" y1="608.80" x2="75.50" y2="612.80" stroke="#4aaa4a" stroke-width="0.75" />
<line x1="76.30" y1="608.80" x2="76.30" y2="612.80" stroke="#4aaa4a" stroke-width="0.75" />
<line x1="77.50" y1="608.80" x2="77.50" y2="612.80" stroke="#4aaa4a" stroke-width="0.75" />
<line x1="83.20" y1="607.60" x2="83.20" y2="611.60" stroke="#4aaa4a" stroke-width="0.75" />
<line x1="95.30" y1="607.60" x2="95.30" y2="611.60" stroke="#4aaa4a" stroke-width="0.75" />
<line x1="101.10" y1="607.60" x2="101.10" y2="611.60" stroke="#4aaa4a" stroke-width="0.75" />
<line x1="116.70" y1="607.60" x2="116.70" y2="611.60" stroke="#4aaa4a" stroke-width="0.75" />
<line x1="126.40" y1="607.60" x2="126.40" y2="611.60" stroke="#4aaa4a" stroke-width="0.75" />
<line x1="135.00" y1="607.60" x2="135.00" y2="611.60" stroke="#4aaa4a" stroke-width="0.75" />
<line x1="146.60" y1="607.60" x2="146.60" y2="611.60" stroke="#4aaa4a" stroke-width="0.75" />
<line x1="152.40" y1="607.60" x2="152.40" y2="611.60" stroke="#4aaa4a" stroke-width="0.75" />
<line x1="154.50" y1="607.60" x2="154.50" y2="611.60" stroke="#4aaa4a" stroke-width="0.75" />
<line x1="158.60" y1="607.60" x2="158.60" y2="611.60" stroke="#4aaa4a" stroke-width="0.75" />
<polyline points="54.90,622.30 59.00,622.30 59.00,588.00 63.60,588.00 63.60,571.20 161.20,571.20" fill="none" stroke="#c0304c" stroke-width="1.5" stroke-linejoin="round" />
<polyline points="63.60,572.00 63.60,588.00" fill="none" stroke="#333" stroke-width="0.6" stroke-linejoin="round" />
<line x1="158.30" y1="569.20" x2="158.30" y2="573.20" stroke="#c0304c" stroke-width="0.75" />
<text x="153.40" y="567.80" font-size="5.6" text-anchor="end" fill="#262626"  stroke="#262626" stroke-width="0.1">n.max = 4</text>
<text x="156.80" y="604.40" font-size="5.6" text-anchor="end" fill="#262626"  stroke="#262626" stroke-width="0.1">n.max = 55</text>
<polyline points="219.60,571.20 234.50,571.20" fill="none" stroke="#222" stroke-width="0.9" stroke-linejoin="round" stroke-dasharray="1.6,1.6"/>
<polyline points="221.00,622.30 228.40,622.30 228.40,613.30 231.50,613.30 231.50,614.00 232.80,614.00 232.80,613.30 234.20,613.30 234.20,607.30 327.00,607.30" fill="none" stroke="#4aaa4a" stroke-width="1.2" stroke-linejoin="round" />
<line x1="229.80" y1="611.30" x2="229.80" y2="615.30" stroke="#4aaa4a" stroke-width="0.75" />
<line x1="230.50" y1="611.30" x2="230.50" y2="615.30" stroke="#4aaa4a" stroke-width="0.75" />
<line x1="241.10" y1="605.30" x2="241.10" y2="609.30" stroke="#4aaa4a" stroke-width="0.75" />
<line x1="241.80" y1="605.30" x2="241.80" y2="609.30" stroke="#4aaa4a" stroke-width="0.75" />
<line x1="242.80" y1="605.30" x2="242.80" y2="609.30" stroke="#4aaa4a" stroke-width="0.75" />
<line x1="255.00" y1="605.30" x2="255.00" y2="609.30" stroke="#4aaa4a" stroke-width="0.75" />
<line x1="260.70" y1="605.30" x2="260.70" y2="609.30" stroke="#4aaa4a" stroke-width="0.75" />
<polyline points="220.50,622.30 237.70,622.30 237.70,519.90 283.30,519.90" fill="none" stroke="#c0304c" stroke-width="1.5" stroke-linejoin="round" />
<line x1="283.00" y1="517.90" x2="283.00" y2="521.90" stroke="#c0304c" stroke-width="0.75" />
<line x1="226.70" y1="620.30" x2="226.70" y2="624.30" stroke="#c0304c" stroke-width="0.75" />
<line x1="227.30" y1="620.30" x2="227.30" y2="624.30" stroke="#c0304c" stroke-width="0.75" />
<line x1="233.60" y1="620.30" x2="233.60" y2="624.30" stroke="#c0304c" stroke-width="0.75" />
<text x="256.70" y="519.00" font-size="5.6" text-anchor="end" fill="#262626"  stroke="#262626" stroke-width="0.1">n.max = 4</text>
<text x="319.50" y="604.00" font-size="5.6" text-anchor="end" fill="#262626"  stroke="#262626" stroke-width="0.1">n.max = 22</text>
<polyline points="385.80,571.20 399.00,571.20" fill="none" stroke="#222" stroke-width="0.9" stroke-linejoin="round" stroke-dasharray="1.6,1.6"/>
<polyline points="401.30,571.20 401.30,622.20" fill="none" stroke="#222" stroke-width="0.9" stroke-linejoin="round" stroke-dasharray="1.6,1.6"/>
<polyline points="386.30,622.20 393.50,622.20 393.50,617.00 394.50,617.00 394.50,609.00 397.50,609.00 397.50,608.50 399.50,608.50 399.50,607.00 401.30,607.00 401.30,605.80 411.50,605.80 411.50,603.00 493.00,603.00" fill="none" stroke="#4aaa4a" stroke-width="1.2" stroke-linejoin="round" />
<line x1="392.70" y1="620.20" x2="392.70" y2="624.20" stroke="#4aaa4a" stroke-width="0.75" />
<line x1="393.30" y1="620.20" x2="393.30" y2="624.20" stroke="#4aaa4a" stroke-width="0.75" />
<line x1="396.00" y1="607.00" x2="396.00" y2="611.00" stroke="#4aaa4a" stroke-width="0.75" />
<line x1="396.80" y1="607.00" x2="396.80" y2="611.00" stroke="#4aaa4a" stroke-width="0.75" />
<line x1="403.50" y1="603.80" x2="403.50" y2="607.80" stroke="#4aaa4a" stroke-width="0.75" />
<line x1="404.30" y1="603.80" x2="404.30" y2="607.80" stroke="#4aaa4a" stroke-width="0.75" />
<line x1="405.00" y1="603.80" x2="405.00" y2="607.80" stroke="#4aaa4a" stroke-width="0.75" />
<line x1="406.50" y1="603.80" x2="406.50" y2="607.80" stroke="#4aaa4a" stroke-width="0.75" />
<line x1="421.50" y1="601.00" x2="421.50" y2="605.00" stroke="#4aaa4a" stroke-width="0.75" />
<line x1="482.00" y1="601.00" x2="482.00" y2="605.00" stroke="#4aaa4a" stroke-width="0.75" />
<line x1="485.40" y1="601.00" x2="485.40" y2="605.00" stroke="#4aaa4a" stroke-width="0.75" />
<line x1="487.00" y1="601.00" x2="487.00" y2="605.00" stroke="#4aaa4a" stroke-width="0.75" />
<polyline points="386.30,622.20 399.00,622.20 399.40,582.70 400.20,580.00 401.10,578.00 401.10,566.00 492.60,566.00" fill="none" stroke="#c0304c" stroke-width="1.5" stroke-linejoin="round" />
<line x1="407.70" y1="564.00" x2="407.70" y2="568.00" stroke="#c0304c" stroke-width="0.75" />
<line x1="409.40" y1="564.00" x2="409.40" y2="568.00" stroke="#c0304c" stroke-width="0.75" />
<line x1="411.20" y1="564.00" x2="411.20" y2="568.00" stroke="#c0304c" stroke-width="0.75" />
<text x="482.00" y="562.60" font-size="5.6" text-anchor="end" fill="#262626"  stroke="#262626" stroke-width="0.1">n.max = 9</text>
<text x="484.90" y="600.00" font-size="5.6" text-anchor="end" fill="#262626"  stroke="#262626" stroke-width="0.1">n.max = 31</text>
<rect x="49.50" y="514.00" width="113.10" height="113.80" fill="none" stroke="#1a1a1a" stroke-width="1" />
<rect x="215.50" y="514.00" width="112.20" height="113.80" fill="none" stroke="#1a1a1a" stroke-width="1" />
<rect x="380.90" y="514.00" width="112.80" height="113.80" fill="none" stroke="#1a1a1a" stroke-width="1" />
<text x="27.40" y="570.20" font-size="8.2" text-anchor="middle" fill="#222" textLength="73" lengthAdjust="spacingAndGlyphs" transform="rotate(-90 27.40 570.20)" stroke="#222" stroke-width="0.15">Fraction relapse (cumulative)</text>
<text x="49.60" y="649.50" font-size="8.5" text-anchor="start" fill="#1a1a1a" textLength="46.6" lengthAdjust="spacingAndGlyphs" stroke="#1a1a1a" stroke-width="0.22">Days post-allo-HCT</text>
<line x1="102.00" y1="647.60" x2="116.50" y2="647.60" stroke="#111" stroke-width="1.0" />
<polygon points="119.50,647.60 115.00,645.80 115.00,649.40" fill="#111"/>
</svg>
<div class="frame"></div>
</body></html>
